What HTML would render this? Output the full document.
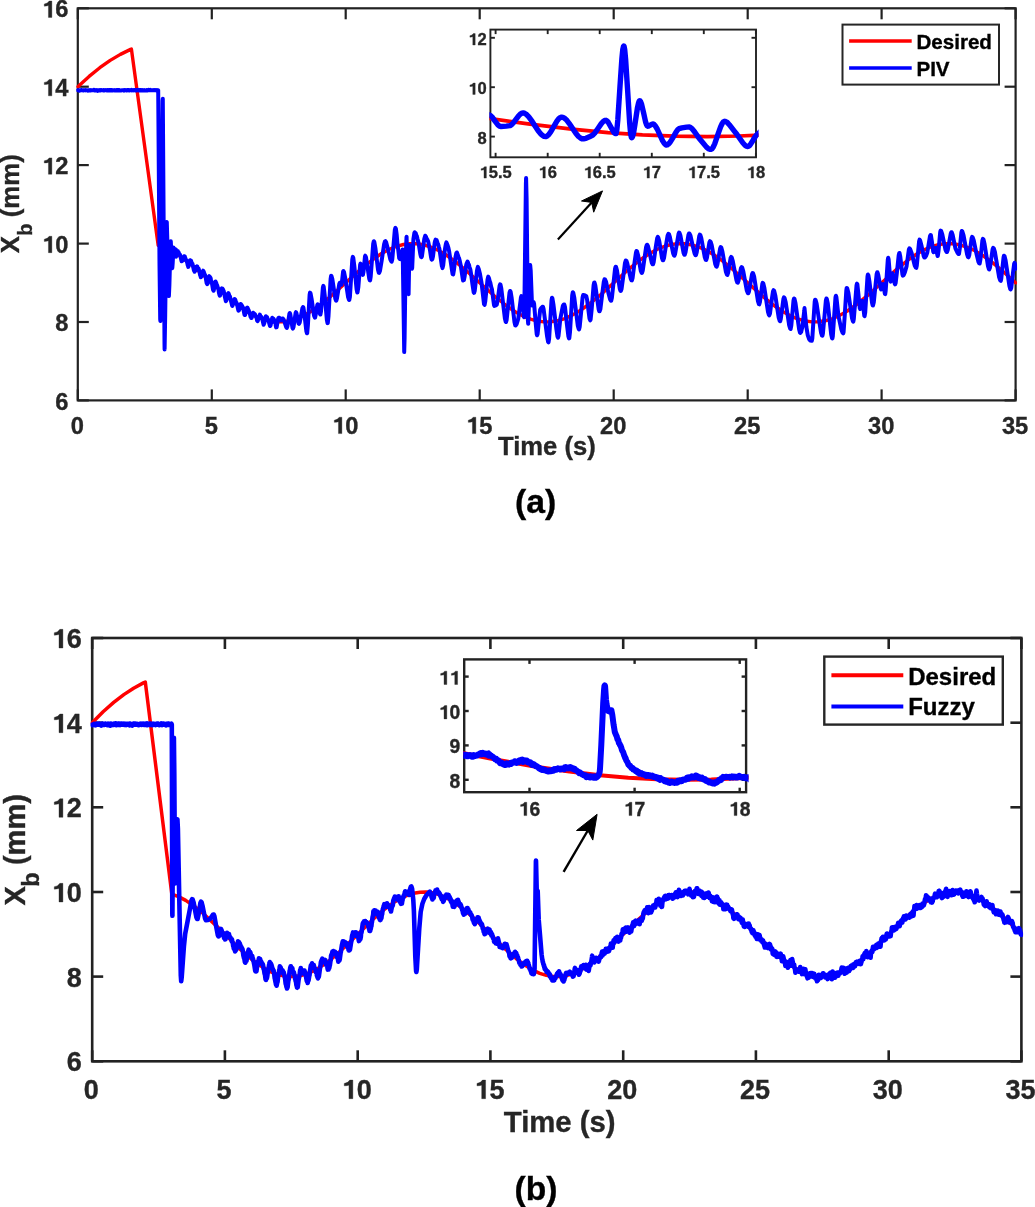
<!DOCTYPE html>
<html><head><meta charset="utf-8"><title>Xb tracking: PIV vs Fuzzy</title>
<style>
html,body{margin:0;padding:0;background:#fff;}
body{width:1035px;height:1207px;overflow:hidden;}
svg{display:block;font-family:"Liberation Sans", sans-serif;font-weight:bold;will-change:transform;}
</style></head>
<body>
<svg width="1035" height="1207" viewBox="0 0 1035 1207">
<rect width="1035" height="1207" fill="#fff"/>
<rect x="77.8" y="8.3" width="937.80" height="392.10" fill="none" stroke="#222222" stroke-width="2.2"/>
<line x1="77.8" y1="400.4" x2="77.8" y2="389.4" stroke="#222222" stroke-width="2.2"/>
<line x1="77.8" y1="8.3" x2="77.8" y2="19.3" stroke="#222222" stroke-width="2.2"/>
<line x1="211.8" y1="400.4" x2="211.8" y2="389.4" stroke="#222222" stroke-width="2.2"/>
<line x1="211.8" y1="8.3" x2="211.8" y2="19.3" stroke="#222222" stroke-width="2.2"/>
<line x1="345.7" y1="400.4" x2="345.7" y2="389.4" stroke="#222222" stroke-width="2.2"/>
<line x1="345.7" y1="8.3" x2="345.7" y2="19.3" stroke="#222222" stroke-width="2.2"/>
<line x1="479.7" y1="400.4" x2="479.7" y2="389.4" stroke="#222222" stroke-width="2.2"/>
<line x1="479.7" y1="8.3" x2="479.7" y2="19.3" stroke="#222222" stroke-width="2.2"/>
<line x1="613.7" y1="400.4" x2="613.7" y2="389.4" stroke="#222222" stroke-width="2.2"/>
<line x1="613.7" y1="8.3" x2="613.7" y2="19.3" stroke="#222222" stroke-width="2.2"/>
<line x1="747.7" y1="400.4" x2="747.7" y2="389.4" stroke="#222222" stroke-width="2.2"/>
<line x1="747.7" y1="8.3" x2="747.7" y2="19.3" stroke="#222222" stroke-width="2.2"/>
<line x1="881.6" y1="400.4" x2="881.6" y2="389.4" stroke="#222222" stroke-width="2.2"/>
<line x1="881.6" y1="8.3" x2="881.6" y2="19.3" stroke="#222222" stroke-width="2.2"/>
<line x1="1015.6" y1="400.4" x2="1015.6" y2="389.4" stroke="#222222" stroke-width="2.2"/>
<line x1="1015.6" y1="8.3" x2="1015.6" y2="19.3" stroke="#222222" stroke-width="2.2"/>
<line x1="77.8" y1="400.4" x2="88.8" y2="400.4" stroke="#222222" stroke-width="2.2"/>
<line x1="1015.6" y1="400.4" x2="1004.6" y2="400.4" stroke="#222222" stroke-width="2.2"/>
<line x1="77.8" y1="322.0" x2="88.8" y2="322.0" stroke="#222222" stroke-width="2.2"/>
<line x1="1015.6" y1="322.0" x2="1004.6" y2="322.0" stroke="#222222" stroke-width="2.2"/>
<line x1="77.8" y1="243.6" x2="88.8" y2="243.6" stroke="#222222" stroke-width="2.2"/>
<line x1="1015.6" y1="243.6" x2="1004.6" y2="243.6" stroke="#222222" stroke-width="2.2"/>
<line x1="77.8" y1="165.1" x2="88.8" y2="165.1" stroke="#222222" stroke-width="2.2"/>
<line x1="1015.6" y1="165.1" x2="1004.6" y2="165.1" stroke="#222222" stroke-width="2.2"/>
<line x1="77.8" y1="86.7" x2="88.8" y2="86.7" stroke="#222222" stroke-width="2.2"/>
<line x1="1015.6" y1="86.7" x2="1004.6" y2="86.7" stroke="#222222" stroke-width="2.2"/>
<line x1="77.8" y1="8.3" x2="88.8" y2="8.3" stroke="#222222" stroke-width="2.2"/>
<line x1="1015.6" y1="8.3" x2="1004.6" y2="8.3" stroke="#222222" stroke-width="2.2"/>
<clipPath id="cT"><rect x="76.3" y="6.8" width="940.8" height="395.1"/></clipPath>
<path d="M77.8 86.7 L89.1 76.4 L99.8 67.7 L110.2 60.4 L120.4 54.4 L130.6 49.4 L131.4 49.1 L158.2 245.5 L165.1 247.9 L172.7 251.6 L181.0 256.8 L190.6 264.1 L203.7 275.4 L227.3 296.7 L238.3 305.6 L247.1 311.7 L254.9 316.0 L262.1 319.0 L268.8 320.9 L275.5 321.9 L282.0 321.9 L288.7 320.9 L295.6 318.9 L302.9 315.9 L310.9 311.4 L320.0 305.0 L331.0 296.1 L362.1 268.1 L372.8 259.5 L381.6 253.5 L389.4 249.3 L396.7 246.3 L403.4 244.5 L410.0 243.6 L416.5 243.7 L423.2 244.7 L430.1 246.8 L437.4 249.9 L445.4 254.5 L454.5 260.9 L465.8 270.2 L496.1 297.4 L506.8 306.0 L515.6 312.0 L523.4 316.3 L530.6 319.2 L537.3 321.0 L544.0 321.9 L550.5 321.8 L557.1 320.8 L564.1 318.8 L571.4 315.6 L579.4 311.0 L588.5 304.6 L599.8 295.4 L630.0 268.1 L640.7 259.5 L649.6 253.5 L657.4 249.3 L664.6 246.3 L671.3 244.5 L678.0 243.6 L684.4 243.7 L691.1 244.7 L698.1 246.8 L705.3 249.9 L713.4 254.5 L722.5 260.9 L733.7 270.2 L764.0 297.4 L774.7 306.0 L783.6 312.0 L791.3 316.3 L798.6 319.2 L805.3 321.0 L812.0 321.9 L818.4 321.8 L825.1 320.8 L832.1 318.8 L839.3 315.6 L847.3 311.0 L856.4 304.6 L867.7 295.4 L898.0 268.1 L908.7 259.5 L917.5 253.5 L925.3 249.3 L932.5 246.3 L939.2 244.5 L945.9 243.6 L952.4 243.7 L959.1 244.7 L966.0 246.8 L973.3 249.9 L981.3 254.5 L990.4 260.9 L1001.7 270.2 L1015.6 282.8" fill="none" stroke="#ff0000" stroke-width="3.4" stroke-linejoin="round" stroke-linecap="round" clip-path="url(#cT)"/>
<path d="M77.8 90.2 L78.2 90.3 L78.8 90.2 L79.4 90.7 L79.6 90.3 L80.1 90.5 L80.9 90.2 L81.1 90.3 L81.7 90.1 L82.1 90.2 L82.6 90.2 L82.9 90.4 L83.3 90.2 L83.5 90.4 L84.0 90.2 L84.7 90.3 L85.3 90.1 L85.8 90.5 L86.2 90.2 L86.4 90.3 L86.8 90.2 L87.2 90.3 L87.4 90.2 L87.8 90.6 L88.6 90.2 L89.3 90.5 L89.7 90.2 L90.3 90.4 L90.7 90.1 L90.8 90.3 L91.1 90.4 L91.5 90.3 L92.0 90.3 L92.9 90.2 L93.2 90.2 L93.6 90.0 L94.0 90.1 L94.1 89.9 L94.5 90.4 L94.7 90.3 L94.8 90.4 L95.2 90.4 L95.6 90.5 L96.0 90.4 L96.4 90.3 L96.4 90.1 L96.8 90.2 L96.9 90.3 L97.4 90.2 L97.8 90.8 L98.3 90.3 L98.9 90.2 L99.5 90.3 L99.8 90.0 L100.2 90.5 L100.8 90.1 L101.0 90.3 L101.4 90.1 L101.8 90.2 L103.0 90.2 L103.4 90.4 L103.6 90.1 L104.0 90.3 L104.2 90.2 L104.6 90.4 L105.2 90.0 L105.5 90.3 L105.9 90.3 L106.8 90.1 L107.2 90.5 L107.5 90.3 L107.7 90.4 L107.9 90.1 L108.3 90.4 L108.9 90.1 L109.3 90.4 L109.6 90.2 L110.0 90.4 L110.2 90.2 L110.5 90.4 L110.9 90.1 L111.0 90.2 L111.4 90.0 L111.7 90.4 L112.0 90.2 L112.7 90.5 L113.7 90.2 L114.6 90.3 L114.9 90.5 L114.9 90.3 L115.5 90.4 L115.9 90.4 L116.0 90.5 L116.4 90.1 L116.5 90.2 L116.6 90.2 L116.9 90.5 L117.3 90.3 L117.4 90.5 L117.7 90.3 L117.8 90.5 L117.8 90.3 L118.1 90.4 L118.4 90.3 L118.7 90.4 L119.4 90.1 L119.7 90.4 L120.2 90.4 L121.1 90.4 L121.5 90.4 L122.2 90.2 L122.6 90.3 L123.6 90.2 L124.0 90.6 L124.5 90.1 L124.9 90.3 L125.7 90.1 L126.0 90.4 L126.4 90.5 L126.6 90.5 L127.0 90.2 L127.2 90.4 L127.6 90.0 L128.0 90.2 L128.4 90.0 L129.2 90.4 L129.3 90.5 L129.8 90.2 L130.5 90.3 L130.9 90.2 L131.3 89.9 L131.6 90.2 L132.1 90.5 L132.5 90.2 L132.9 90.3 L133.4 90.4 L133.8 89.9 L134.1 90.0 L134.3 90.2 L134.6 90.0 L135.0 90.3 L135.1 90.2 L135.5 90.4 L135.8 90.4 L136.1 90.0 L136.6 90.5 L137.2 90.4 L137.4 90.3 L137.8 89.9 L138.5 90.4 L138.9 90.0 L139.1 90.3 L139.5 90.2 L139.7 90.1 L139.9 90.4 L140.3 90.1 L141.1 90.5 L141.4 90.2 L141.7 90.5 L142.7 90.1 L143.1 90.4 L143.2 90.2 L143.7 90.4 L144.2 90.0 L144.7 90.4 L145.2 90.6 L146.0 90.3 L146.2 90.4 L146.6 90.0 L146.8 90.1 L147.3 90.2 L147.7 90.4 L148.1 90.1 L148.5 89.9 L148.7 90.2 L149.6 90.3 L150.1 90.2 L150.4 89.9 L150.8 90.2 L151.4 90.2 L151.8 90.3 L152.0 90.2 L152.4 90.2 L152.7 90.2 L152.9 90.3 L153.3 90.1 L154.0 90.3 L154.6 90.0 L155.3 90.3 L155.6 90.1 L156.1 90.4 L156.4 90.4 L156.8 90.3 L157.1 90.1 L157.8 90.3 L158.2 90.2 L159.5 264.8 L160.2 319.3 L160.4 321.1 L161.0 268.3 L162.6 100.9 L162.8 98.7 L164.5 344.1 L164.6 349.4 L165.2 315.2 L166.3 234.8 L166.7 222.2 L166.8 222.0 L167.4 242.0 L168.8 295.4 L168.9 296.1 L169.4 284.8 L170.5 244.9 L170.8 241.3 L171.9 264.5 L172.3 268.2 L172.7 263.1 L173.5 247.5 L174.0 249.7 L174.7 253.3 L175.1 252.9 L175.9 249.4 L176.0 256.7 L176.2 256.2 L176.7 254.3 L177.0 253.1 L177.3 252.7 L177.9 251.2 L178.4 252.9 L178.5 252.6 L178.6 252.8 L178.7 252.5 L178.9 253.3 L179.2 253.8 L179.7 254.7 L179.8 254.4 L179.9 254.8 L180.0 254.7 L180.9 258.2 L181.3 260.0 L181.6 261.2 L181.8 260.4 L182.3 260.9 L183.1 258.5 L183.5 257.5 L183.6 257.6 L184.1 256.3 L184.6 256.7 L184.8 256.4 L185.2 258.1 L185.3 258.0 L185.4 258.2 L185.4 258.1 L186.3 260.8 L186.5 260.5 L186.9 262.0 L187.0 261.8 L187.8 265.5 L187.9 265.4 L188.3 266.9 L188.6 266.2 L189.3 263.5 L189.5 263.7 L190.0 260.3 L190.3 260.5 L190.5 261.4 L190.7 261.4 L191.0 260.6 L191.7 262.9 L192.0 263.5 L192.1 264.2 L192.3 263.8 L192.5 263.9 L193.9 270.4 L194.0 270.6 L194.1 270.5 L194.2 270.7 L194.3 270.5 L194.6 271.8 L194.8 271.0 L194.8 271.3 L195.0 270.4 L195.2 270.9 L195.8 267.6 L196.0 267.8 L196.4 266.7 L196.4 266.8 L196.5 266.7 L196.6 266.8 L196.8 266.5 L197.2 267.0 L197.3 266.5 L197.9 268.8 L198.1 268.8 L198.2 269.1 L198.3 268.9 L198.4 269.1 L198.6 268.6 L199.4 271.5 L200.1 275.2 L200.5 276.0 L200.8 277.2 L200.9 276.8 L200.9 277.2 L201.2 276.7 L201.7 275.6 L202.3 272.8 L202.7 271.8 L203.2 270.7 L203.8 271.7 L204.6 274.4 L205.0 275.3 L205.1 275.0 L205.2 275.4 L205.3 275.3 L206.6 282.9 L207.1 284.1 L207.2 283.8 L207.3 284.1 L207.5 283.4 L207.5 283.7 L207.9 283.1 L208.7 277.3 L209.3 276.2 L209.6 276.9 L209.7 276.6 L210.2 277.8 L210.3 277.6 L210.6 278.1 L211.1 280.3 L212.0 283.6 L212.8 288.3 L213.1 290.0 L213.6 290.6 L213.6 290.4 L213.7 290.5 L214.8 284.8 L215.4 281.6 L215.6 281.6 L216.0 282.5 L216.1 282.5 L216.8 284.8 L216.9 285.2 L217.0 285.0 L217.3 285.8 L218.5 289.8 L219.0 293.1 L219.5 295.0 L219.8 295.7 L219.9 295.3 L220.0 295.6 L220.6 292.6 L221.2 289.8 L221.3 289.9 L221.7 288.6 L221.8 288.8 L221.9 288.5 L222.0 288.7 L222.2 288.5 L222.3 288.8 L222.4 288.6 L222.5 289.1 L222.6 288.9 L222.8 289.5 L222.9 289.2 L223.5 290.9 L223.6 291.3 L223.7 291.0 L224.7 296.1 L225.8 301.2 L226.1 300.5 L226.3 300.6 L227.1 297.2 L227.8 293.7 L228.0 293.8 L228.4 293.2 L228.5 293.4 L228.6 293.3 L229.5 296.3 L229.6 295.9 L229.7 296.3 L229.9 296.3 L230.9 300.8 L231.5 303.0 L232.1 305.4 L232.1 305.2 L232.4 305.9 L232.5 305.6 L232.5 305.8 L232.8 304.7 L232.9 304.9 L233.6 301.8 L234.0 300.0 L234.1 300.1 L234.5 299.2 L234.6 299.0 L234.8 299.4 L235.0 299.6 L235.1 299.3 L235.4 300.0 L236.1 302.7 L236.3 302.8 L236.5 302.6 L237.5 306.4 L237.8 308.1 L238.4 310.6 L238.6 310.7 L238.9 310.4 L239.3 309.5 L240.2 305.3 L240.5 304.1 L240.6 304.2 L240.7 304.1 L240.7 304.5 L240.9 304.0 L241.1 304.6 L241.1 304.4 L241.3 305.5 L241.5 305.2 L241.5 305.5 L241.7 305.0 L242.3 306.9 L242.4 306.5 L242.7 306.8 L243.5 309.8 L244.5 314.8 L244.8 314.6 L244.8 315.1 L245.0 314.8 L245.1 315.0 L246.1 311.2 L246.7 308.0 L246.9 307.8 L247.0 308.0 L247.1 307.8 L247.2 307.9 L247.4 307.6 L247.8 308.4 L248.5 310.1 L248.5 309.9 L248.9 311.3 L249.0 311.1 L249.9 313.8 L250.5 316.6 L250.7 317.2 L250.8 317.0 L251.0 317.4 L251.1 317.2 L251.2 317.8 L251.3 317.6 L251.5 318.0 L251.9 317.2 L252.3 315.1 L252.4 315.2 L253.2 312.7 L253.6 313.7 L253.9 313.3 L254.2 313.7 L254.6 315.0 L255.0 314.2 L255.3 315.5 L255.4 315.4 L255.8 316.4 L255.8 316.1 L256.7 318.4 L257.1 320.6 L257.5 321.1 L257.5 320.6 L257.8 320.8 L258.3 319.0 L258.3 319.2 L259.0 316.2 L259.2 316.2 L259.3 315.8 L259.5 316.0 L259.9 314.6 L260.5 316.5 L260.9 316.4 L261.3 317.2 L261.5 317.1 L262.0 318.6 L262.3 319.2 L263.6 324.7 L264.0 323.6 L264.2 323.6 L265.8 316.2 L266.1 316.5 L266.4 317.2 L266.9 318.0 L267.1 317.2 L267.6 319.4 L267.8 318.8 L268.1 319.7 L268.7 321.4 L269.9 325.8 L270.1 326.0 L270.2 325.8 L270.3 325.9 L270.5 325.7 L272.2 317.8 L272.4 318.5 L272.5 318.3 L272.6 318.5 L272.6 318.2 L273.2 319.1 L273.5 318.6 L274.1 319.9 L274.7 322.2 L274.9 322.1 L275.1 322.5 L275.1 322.2 L276.1 327.4 L276.6 327.3 L278.2 318.4 L278.3 318.5 L278.4 318.0 L278.6 318.2 L278.8 317.7 L279.2 317.8 L279.6 319.6 L279.8 319.2 L279.9 319.6 L280.1 319.3 L280.4 319.8 L280.8 320.5 L281.7 318.8 L282.9 318.5 L283.7 319.7 L286.2 327.2 L286.8 327.9 L287.4 326.5 L289.4 313.7 L289.8 313.0 L290.3 314.3 L292.5 328.0 L292.9 328.6 L293.5 327.1 L295.6 313.0 L296.0 312.2 L296.4 312.9 L298.6 323.5 L299.0 323.9 L299.7 322.6 L302.4 308.2 L303.0 307.1 L303.4 307.6 L304.3 313.4 L306.4 331.4 L307.0 333.3 L307.2 333.1 L307.9 325.1 L309.6 294.9 L310.0 292.6 L310.5 293.2 L311.6 298.8 L314.0 315.5 L314.8 317.6 L315.1 317.5 L315.9 313.8 L317.3 305.0 L317.7 304.3 L318.2 305.6 L320.0 314.1 L320.4 314.5 L321.0 311.4 L322.9 287.5 L323.3 285.9 L323.7 286.7 L324.7 295.3 L326.9 320.2 L327.5 323.1 L327.8 323.0 L328.5 316.0 L330.6 279.0 L331.1 275.8 L331.4 275.9 L332.3 278.9 L335.3 298.6 L336.0 300.7 L336.3 300.7 L337.0 298.3 L339.3 283.9 L339.8 282.8 L340.7 283.8 L341.5 284.7 L341.9 282.5 L343.1 271.5 L343.4 271.0 L344.0 272.0 L345.3 278.4 L348.1 297.1 L349.0 299.8 L349.3 300.0 L349.9 296.8 L352.3 259.4 L352.8 256.9 L353.3 257.9 L354.4 266.6 L356.6 289.3 L357.3 292.5 L357.5 292.5 L358.3 287.5 L360.1 265.1 L360.5 263.6 L361.0 264.7 L362.6 274.4 L362.9 274.9 L363.5 271.9 L365.0 256.3 L365.3 255.7 L366.0 257.3 L367.6 267.8 L369.2 278.5 L369.8 280.3 L370.1 280.4 L370.7 276.7 L373.2 243.7 L373.8 241.2 L374.3 241.9 L375.4 248.1 L378.0 269.8 L378.8 272.8 L379.2 272.9 L380.0 270.8 L381.7 260.4 L384.1 244.4 L384.9 241.5 L385.4 241.2 L386.2 242.4 L387.8 248.4 L390.3 259.3 L391.3 261.4 L391.7 261.6 L392.3 259.2 L394.8 230.1 L395.4 227.9 L395.9 228.8 L396.7 234.8 L397.6 245.3 L398.2 249.6 L399.2 258.2 L400.0 259.1 L400.8 259.2 L401.7 253.9 L402.5 249.5 L402.7 252.0 L404.2 351.0 L404.2 352.1 L404.6 337.6 L405.7 257.4 L406.5 237.1 L406.6 236.9 L407.2 267.1 L407.7 287.4 L408.4 293.9 L408.6 294.1 L409.5 245.1 L410.2 252.9 L411.0 264.1 L411.8 268.5 L412.0 268.6 L412.2 267.8 L413.4 239.1 L414.4 232.9 L414.5 232.7 L414.6 232.9 L414.7 232.3 L415.0 232.6 L415.1 232.9 L415.2 232.8 L415.2 232.9 L415.5 232.9 L415.7 233.1 L416.5 236.3 L416.8 235.9 L417.4 238.5 L418.0 240.8 L418.2 242.3 L418.3 242.0 L418.5 242.6 L420.3 253.9 L421.0 256.7 L421.1 256.6 L421.3 257.0 L421.5 257.1 L421.9 256.5 L423.2 247.0 L424.3 238.8 L425.2 235.7 L425.9 236.6 L426.0 236.6 L426.4 238.4 L426.5 238.2 L426.7 238.4 L427.1 240.0 L427.4 239.6 L427.9 241.1 L428.3 242.1 L429.5 247.9 L430.0 250.3 L431.0 257.0 L431.6 259.5 L431.8 259.6 L432.3 259.2 L433.0 256.2 L434.7 242.8 L435.3 240.1 L435.3 240.2 L435.5 239.7 L435.6 239.9 L435.7 239.7 L435.8 240.4 L436.0 240.1 L436.1 240.2 L436.3 240.5 L436.6 240.0 L437.2 241.9 L437.8 244.0 L438.0 243.9 L438.4 245.2 L438.8 246.8 L439.4 248.9 L440.3 254.9 L441.0 260.0 L441.8 265.7 L442.0 266.4 L442.1 266.3 L442.5 268.1 L443.2 265.3 L444.7 251.1 L445.3 247.0 L445.9 243.8 L446.4 242.3 L446.8 243.5 L446.8 243.3 L447.4 244.9 L447.6 245.3 L448.4 247.9 L449.2 251.7 L451.3 265.6 L452.0 270.4 L452.6 274.1 L452.9 273.9 L453.2 274.3 L454.0 269.6 L455.5 257.1 L456.3 253.1 L456.5 253.6 L456.9 252.5 L458.0 255.5 L458.5 256.9 L459.0 258.1 L459.8 261.1 L460.7 265.1 L462.8 279.1 L463.1 280.5 L463.2 279.9 L463.3 280.3 L463.5 279.8 L463.6 280.0 L463.7 279.7 L463.9 280.0 L464.7 276.0 L466.1 265.5 L466.6 263.5 L467.5 261.5 L467.7 261.8 L468.0 262.5 L468.3 264.5 L468.4 264.8 L468.5 264.1 L468.7 264.4 L468.8 264.3 L469.5 267.1 L470.4 269.7 L471.3 275.4 L472.4 283.9 L473.7 292.4 L473.9 292.7 L474.0 292.6 L474.1 292.8 L474.7 290.9 L475.6 283.2 L476.9 271.1 L477.5 268.1 L477.9 266.9 L478.8 269.3 L480.0 274.0 L481.5 282.5 L484.0 304.0 L484.5 304.9 L484.5 304.7 L484.6 304.8 L485.3 301.1 L487.5 279.6 L488.2 276.6 L488.6 277.4 L489.0 278.3 L489.8 281.8 L490.0 282.0 L490.1 281.9 L490.2 282.2 L490.2 282.1 L491.2 287.0 L491.9 289.1 L494.0 304.9 L494.4 305.9 L495.9 305.4 L496.8 304.5 L497.7 299.9 L499.6 285.7 L500.1 284.4 L500.5 284.7 L501.3 288.5 L504.9 318.6 L505.7 321.7 L506.0 322.0 L506.6 320.2 L508.1 305.9 L509.5 292.7 L510.1 291.0 L510.6 291.7 L511.6 297.5 L514.5 322.3 L515.3 325.4 L515.7 325.5 L516.6 324.1 L518.3 318.6 L520.9 297.7 L521.4 296.1 L521.8 297.3 L523.8 316.5 L524.1 317.2 L524.6 289.0 L525.9 183.5 L526.1 178.1 L526.6 198.7 L527.9 320.5 L528.2 323.8 L528.8 308.4 L530.0 267.3 L530.2 265.1 L530.7 270.7 L532.0 304.3 L532.3 305.5 L533.6 302.0 L534.1 303.7 L535.6 322.0 L536.7 334.1 L537.1 335.3 L537.6 334.0 L539.1 319.3 L540.2 309.8 L541.1 308.1 L542.4 306.8 L543.0 306.7 L543.6 309.0 L547.1 336.4 L548.1 341.9 L548.5 342.3 L549.1 338.8 L551.5 300.4 L552.0 297.7 L552.4 298.2 L553.5 304.9 L556.4 329.2 L557.5 336.7 L558.0 337.7 L558.5 336.0 L560.3 319.0 L562.9 305.6 L563.8 304.4 L564.3 304.4 L565.0 307.0 L566.9 324.4 L568.4 336.4 L569.0 338.4 L569.3 338.3 L570.0 332.1 L572.2 295.3 L572.8 292.2 L573.3 292.8 L574.3 297.7 L577.8 325.7 L578.7 329.1 L579.1 329.4 L579.7 326.8 L582.6 297.2 L583.2 295.0 L584.6 295.2 L586.3 296.3 L587.1 299.8 L589.5 318.6 L590.2 320.4 L590.6 319.6 L591.6 310.1 L593.6 285.1 L594.2 282.5 L594.5 282.5 L595.3 285.3 L598.6 309.1 L599.3 311.3 L599.6 311.3 L600.4 309.1 L602.1 295.1 L603.8 281.7 L604.5 279.3 L605.0 279.4 L606.0 281.5 L608.6 293.8 L610.2 299.6 L610.9 300.8 L611.2 300.7 L611.9 297.8 L615.0 269.1 L615.6 266.7 L616.0 266.9 L616.9 270.1 L619.8 288.9 L620.5 290.9 L620.9 290.9 L621.6 288.8 L623.4 275.5 L625.0 262.8 L625.8 260.5 L626.3 260.6 L627.2 262.9 L630.7 278.6 L631.5 280.3 L631.9 280.4 L632.6 278.0 L634.7 261.2 L636.0 252.4 L636.5 251.0 L637.0 251.4 L638.1 255.2 L640.8 270.8 L641.6 272.9 L642.0 272.9 L642.8 270.3 L646.1 247.1 L646.8 244.9 L647.2 244.8 L648.0 246.3 L649.9 254.2 L651.8 262.7 L652.6 264.2 L653.0 264.3 L653.7 262.1 L655.8 246.7 L657.2 238.1 L657.8 236.9 L658.2 237.3 L659.3 241.3 L662.0 258.1 L662.8 260.3 L663.2 260.3 L664.0 258.1 L666.1 244.6 L667.6 235.5 L668.4 233.8 L668.9 234.0 L669.8 236.6 L673.2 253.6 L674.0 255.6 L674.4 255.7 L675.1 254.0 L677.0 242.8 L678.5 234.1 L679.1 232.6 L679.5 232.8 L680.4 235.4 L683.6 253.1 L684.3 254.8 L684.7 254.8 L685.5 252.3 L688.4 235.0 L689.0 233.4 L689.5 233.5 L690.5 235.6 L692.8 246.2 L694.6 253.6 L695.5 255.2 L695.9 255.2 L696.7 252.5 L699.2 236.2 L699.8 234.6 L700.3 234.9 L701.3 238.1 L704.8 257.4 L705.7 259.8 L706.2 260.0 L706.9 257.9 L709.4 242.4 L710.0 241.2 L710.6 241.7 L711.7 245.2 L715.2 263.9 L716.2 266.4 L716.7 266.7 L717.4 264.7 L720.1 248.5 L720.7 247.1 L721.3 247.6 L722.4 251.5 L725.9 271.9 L726.9 274.7 L727.4 274.9 L728.1 272.8 L730.6 258.0 L731.2 256.9 L731.7 257.4 L732.8 261.1 L736.4 280.0 L737.3 282.5 L737.8 282.7 L738.5 280.9 L741.0 268.0 L741.6 267.1 L742.2 267.6 L743.3 271.3 L746.8 290.6 L747.8 293.1 L748.3 293.3 L749.0 291.5 L752.0 274.4 L752.6 273.0 L753.1 273.3 L754.1 276.4 L758.0 301.4 L758.9 304.1 L759.3 304.3 L759.9 302.2 L762.3 284.0 L762.7 282.8 L763.3 283.4 L764.4 288.0 L768.0 311.9 L768.9 315.0 L769.3 315.3 L770.0 313.6 L771.8 299.4 L773.0 291.4 L773.6 290.2 L774.2 290.9 L775.3 295.4 L778.7 317.7 L779.7 320.9 L780.2 321.2 L780.8 319.0 L783.4 298.9 L784.0 297.3 L784.5 297.8 L785.7 302.2 L789.2 325.5 L790.2 328.7 L790.6 329.0 L791.3 325.7 L793.5 300.4 L794.0 298.5 L794.5 298.9 L795.5 303.3 L799.1 329.3 L800.0 332.6 L800.4 332.9 L801.2 331.8 L802.4 326.5 L804.3 310.6 L804.5 308.1 L806.4 327.1 L807.8 335.4 L809.1 339.2 L810.2 340.5 L811.8 340.8 L812.3 338.5 L814.7 301.7 L815.1 299.7 L815.6 300.0 L816.6 303.5 L819.0 319.8 L821.0 332.5 L822.0 335.5 L822.4 335.7 L822.9 333.5 L824.6 314.9 L825.9 300.2 L826.4 298.5 L826.8 298.9 L827.8 303.5 L831.2 334.6 L832.0 338.1 L832.4 338.4 L832.8 336.3 L834.3 314.2 L835.5 297.2 L835.9 295.7 L836.4 297.2 L838.5 316.1 L841.3 329.3 L842.5 332.7 L843.2 333.4 L843.6 331.9 L844.7 316.0 L846.3 290.6 L846.7 287.9 L847.2 288.3 L848.3 292.4 L852.0 318.2 L852.9 321.3 L853.3 321.6 L853.8 319.1 L856.5 285.6 L857.0 283.6 L857.4 284.4 L858.6 296.3 L859.8 308.2 L860.2 309.0 L860.8 307.1 L862.1 301.1 L862.4 300.9 L863.1 305.4 L864.3 315.7 L864.6 316.1 L865.2 312.7 L867.5 276.4 L867.9 274.5 L868.4 275.3 L869.5 281.9 L872.0 302.8 L872.7 305.4 L873.0 305.4 L873.8 302.3 L876.6 274.4 L877.2 272.3 L877.5 272.3 L878.3 275.0 L880.6 288.2 L881.1 289.4 L881.5 288.9 L882.8 284.1 L883.0 284.0 L883.7 287.0 L884.9 293.9 L885.2 294.1 L885.7 290.7 L887.8 259.6 L888.2 257.7 L888.6 259.2 L890.4 280.6 L890.7 281.6 L891.4 278.7 L892.2 273.5 L892.5 273.4 L893.3 276.3 L894.7 283.7 L895.1 284.3 L895.6 283.2 L896.8 273.4 L898.7 255.2 L899.2 253.1 L899.5 253.0 L900.2 256.1 L902.4 274.3 L902.8 275.7 L903.6 275.3 L904.9 272.2 L906.6 266.1 L908.9 249.3 L909.4 248.3 L910.1 248.9 L911.5 252.6 L914.7 265.5 L915.8 267.6 L916.3 267.9 L916.8 265.5 L919.1 241.3 L919.6 239.6 L920.1 240.3 L921.4 245.2 L923.7 256.1 L924.4 257.6 L925.0 257.5 L926.2 255.6 L927.3 252.5 L930.0 236.2 L930.6 235.0 L930.9 235.2 L931.9 241.6 L933.2 251.6 L933.5 252.2 L934.1 251.3 L935.5 248.0 L935.8 247.9 L936.7 252.0 L937.6 256.0 L937.8 256.0 L938.5 251.1 L940.2 232.2 L940.6 230.6 L941.2 231.0 L942.3 234.4 L945.5 249.8 L946.5 252.0 L947.0 252.1 L947.8 249.9 L950.7 233.8 L951.3 232.3 L951.7 232.3 L952.6 234.7 L955.4 248.3 L957.7 253.2 L958.6 254.1 L959.0 254.0 L959.8 248.5 L961.4 232.3 L961.8 231.0 L962.3 231.5 L963.5 235.1 L967.1 254.3 L968.0 257.0 L968.5 257.3 L969.2 255.4 L971.6 238.2 L972.1 236.9 L972.6 237.2 L973.7 240.1 L976.6 254.3 L978.4 261.8 L979.3 263.4 L979.7 263.5 L980.4 259.7 L982.4 240.3 L982.9 238.9 L983.5 239.5 L984.6 244.2 L988.0 266.2 L988.9 269.2 L989.3 269.4 L990.0 267.6 L992.6 249.3 L993.2 247.9 L993.8 248.3 L994.9 251.9 L999.1 277.1 L1000.2 280.4 L1000.8 280.8 L1001.3 278.5 L1003.6 257.0 L1004.0 255.7 L1004.5 256.1 L1005.5 259.9 L1009.4 285.9 L1010.3 289.1 L1010.7 289.4 L1011.3 287.8 L1013.1 271.9 L1014.2 263.6 L1014.6 262.8 L1015.1 264.3 L1015.6 268.7" fill="none" stroke="#0000ff" stroke-width="4.0" stroke-linejoin="round" stroke-linecap="round" clip-path="url(#cT)"/>
<g font-size="23.7" fill="#262626" stroke="#262626" stroke-width="0.35"><text x="70.71" y="433.60">0</text>
<text x="204.68" y="433.60">5</text>
<text x="345.24" y="433.60">0</text><path transform="translate(332.06 433.60) scale(23.7)" stroke-width="0.0148" d="M0.27 0L0.414 0L0.414 -0.69L0.30 -0.69Q0.24 -0.58 0.095 -0.565L0.095 -0.475Q0.18 -0.478 0.27 -0.50Z"/>
<text x="479.21" y="433.60">5</text><path transform="translate(466.03 433.60) scale(23.7)" stroke-width="0.0148" d="M0.27 0L0.414 0L0.414 -0.69L0.30 -0.69Q0.24 -0.58 0.095 -0.565L0.095 -0.475Q0.18 -0.478 0.27 -0.50Z"/>
<text x="600.00 613.19" y="433.60">20</text>
<text x="733.98 747.16" y="433.60">25</text>
<text x="867.95 881.13" y="433.60">30</text>
<text x="1001.92 1015.10" y="433.60">35</text>
<text x="55.22" y="409.50">6</text>
<text x="55.22" y="331.08">8</text>
<text x="55.22" y="252.66">0</text><path transform="translate(42.04 252.66) scale(23.7)" stroke-width="0.0148" d="M0.27 0L0.414 0L0.414 -0.69L0.30 -0.69Q0.24 -0.58 0.095 -0.565L0.095 -0.475Q0.18 -0.478 0.27 -0.50Z"/>
<text x="55.22" y="174.24">2</text><path transform="translate(42.04 174.24) scale(23.7)" stroke-width="0.0148" d="M0.27 0L0.414 0L0.414 -0.69L0.30 -0.69Q0.24 -0.58 0.095 -0.565L0.095 -0.475Q0.18 -0.478 0.27 -0.50Z"/>
<text x="55.22" y="95.82">4</text><path transform="translate(42.04 95.82) scale(23.7)" stroke-width="0.0148" d="M0.27 0L0.414 0L0.414 -0.69L0.30 -0.69Q0.24 -0.58 0.095 -0.565L0.095 -0.475Q0.18 -0.478 0.27 -0.50Z"/>
<text x="55.22" y="17.40">6</text><path transform="translate(42.04 17.40) scale(23.7)" stroke-width="0.0148" d="M0.27 0L0.414 0L0.414 -0.69L0.30 -0.69Q0.24 -0.58 0.095 -0.565L0.095 -0.475Q0.18 -0.478 0.27 -0.50Z"/></g>
<rect x="490.4" y="29.6" width="265.6" height="127.7" fill="#fff"/>
<rect x="490.4" y="29.6" width="265.60" height="127.70" fill="none" stroke="#222222" stroke-width="1.9"/>
<line x1="495.6" y1="157.3" x2="495.6" y2="152.8" stroke="#222222" stroke-width="1.9"/>
<line x1="495.6" y1="29.6" x2="495.6" y2="34.1" stroke="#222222" stroke-width="1.9"/>
<line x1="547.7" y1="157.3" x2="547.7" y2="152.8" stroke="#222222" stroke-width="1.9"/>
<line x1="547.7" y1="29.6" x2="547.7" y2="34.1" stroke="#222222" stroke-width="1.9"/>
<line x1="599.7" y1="157.3" x2="599.7" y2="152.8" stroke="#222222" stroke-width="1.9"/>
<line x1="599.7" y1="29.6" x2="599.7" y2="34.1" stroke="#222222" stroke-width="1.9"/>
<line x1="651.8" y1="157.3" x2="651.8" y2="152.8" stroke="#222222" stroke-width="1.9"/>
<line x1="651.8" y1="29.6" x2="651.8" y2="34.1" stroke="#222222" stroke-width="1.9"/>
<line x1="703.8" y1="157.3" x2="703.8" y2="152.8" stroke="#222222" stroke-width="1.9"/>
<line x1="703.8" y1="29.6" x2="703.8" y2="34.1" stroke="#222222" stroke-width="1.9"/>
<line x1="755.9" y1="157.3" x2="755.9" y2="152.8" stroke="#222222" stroke-width="1.9"/>
<line x1="755.9" y1="29.6" x2="755.9" y2="34.1" stroke="#222222" stroke-width="1.9"/>
<line x1="490.4" y1="136.6" x2="494.9" y2="136.6" stroke="#222222" stroke-width="1.9"/>
<line x1="756.0" y1="136.6" x2="751.5" y2="136.6" stroke="#222222" stroke-width="1.9"/>
<line x1="490.4" y1="87.2" x2="494.9" y2="87.2" stroke="#222222" stroke-width="1.9"/>
<line x1="756.0" y1="87.2" x2="751.5" y2="87.2" stroke="#222222" stroke-width="1.9"/>
<line x1="490.4" y1="37.8" x2="494.9" y2="37.8" stroke="#222222" stroke-width="1.9"/>
<line x1="756.0" y1="37.8" x2="751.5" y2="37.8" stroke="#222222" stroke-width="1.9"/>
<clipPath id="cI1"><rect x="489.4" y="28.6" width="269.2" height="129.7"/></clipPath>
<path d="M474.8 116.5 L530.0 124.2 L571.6 129.1 L608.0 132.6 L642.4 134.9 L674.7 136.2 L707.0 136.6 L739.2 136.0 L772.6 134.5 L776.7 134.2" fill="none" stroke="#ff0000" stroke-width="3.7" stroke-linejoin="round" stroke-linecap="round" clip-path="url(#cI1)"/>
<path d="M474.8 109.2 L475.1 109.1 L476.3 108.1 L476.7 108.0 L477.6 108.2 L477.9 108.5 L478.8 108.6 L479.1 108.8 L479.5 108.8 L480.7 109.8 L481.0 109.8 L482.0 110.8 L482.3 110.8 L482.9 111.3 L483.2 111.2 L483.5 111.4 L483.8 111.3 L484.1 111.5 L484.5 111.4 L484.8 111.8 L485.1 111.8 L485.4 112.4 L487.6 114.3 L490.4 115.4 L492.0 116.9 L495.4 121.6 L497.9 124.8 L499.5 126.1 L500.7 126.5 L506.3 126.1 L510.1 125.6 L511.6 124.7 L513.5 122.7 L518.8 115.6 L520.7 113.8 L521.9 113.1 L523.2 112.9 L524.8 113.4 L526.6 114.6 L528.8 116.9 L532.3 121.7 L538.2 130.8 L540.7 133.9 L542.6 135.5 L544.1 136.4 L545.7 136.6 L546.9 136.2 L548.5 134.8 L550.7 131.9 L556.9 121.2 L558.8 118.7 L560.4 117.5 L561.6 117.1 L562.9 117.3 L564.4 118.1 L566.3 119.7 L569.1 123.3 L576.0 133.5 L578.5 136.5 L580.4 138.0 L581.9 138.7 L583.5 138.8 L586.0 138.3 L589.4 136.8 L592.8 135.0 L594.7 133.1 L597.8 128.7 L601.3 123.6 L603.2 121.5 L604.7 120.5 L606.0 120.3 L606.9 120.8 L608.2 122.2 L610.3 126.0 L613.2 131.3 L614.4 132.9 L615.3 133.5 L616.0 133.6 L616.3 132.9 L616.9 129.5 L617.8 119.9 L620.0 86.3 L621.9 58.4 L622.8 49.3 L623.5 46.4 L623.8 46.0 L624.1 46.4 L624.7 49.5 L625.6 59.0 L627.5 88.3 L629.7 123.5 L630.6 133.5 L631.3 137.1 L631.6 137.8 L631.9 137.8 L632.5 136.7 L633.5 133.2 L635.0 124.0 L637.5 107.5 L638.5 103.2 L639.1 101.4 L639.4 100.9 L639.7 100.8 L640.0 100.9 L640.6 101.7 L641.6 104.3 L643.5 112.3 L645.6 122.0 L646.6 124.8 L647.2 125.9 L647.5 126.2 L648.4 126.1 L650.3 125.1 L652.2 124.1 L653.1 124.0 L654.1 124.5 L655.3 125.8 L657.2 129.0 L662.5 140.6 L664.1 143.2 L665.3 144.5 L666.3 145.0 L667.2 144.9 L668.4 144.1 L670.0 142.4 L672.5 138.3 L676.2 131.8 L677.8 129.7 L679.1 128.7 L681.9 127.9 L686.6 127.1 L689.4 127.0 L690.6 127.5 L692.2 128.8 L694.7 132.0 L699.1 138.3 L703.1 143.0 L706.5 147.1 L708.4 148.7 L710.0 149.4 L710.9 149.4 L711.9 148.9 L713.1 147.2 L714.7 143.9 L718.1 133.9 L720.6 126.9 L722.2 123.5 L723.4 121.8 L724.4 121.3 L725.6 121.5 L727.2 122.4 L729.3 124.7 L734.3 131.1 L736.8 134.2 L742.8 142.8 L745.0 145.2 L746.5 146.2 L747.8 146.5 L748.7 146.2 L750.0 145.1 L751.8 142.3 L755.3 136.5 L756.8 134.7 L761.8 130.3 L765.3 127.3 L766.5 126.4 L769.3 125.7 L771.8 125.5 L773.1 125.8 L774.6 126.9 L776.5 128.9" fill="none" stroke="#0000ff" stroke-width="5.4" stroke-linejoin="round" stroke-linecap="round" clip-path="url(#cI1)"/>
<g font-size="16.5" fill="#262626" stroke="#262626" stroke-width="0.35"><text x="488.72 497.90 502.48" y="178.10">5.5</text><path transform="translate(479.54 178.10) scale(16.5)" stroke-width="0.0212" d="M0.27 0L0.414 0L0.414 -0.69L0.30 -0.69Q0.24 -0.58 0.095 -0.565L0.095 -0.475Q0.18 -0.478 0.27 -0.50Z"/>
<text x="547.66" y="178.10">6</text><path transform="translate(538.48 178.10) scale(16.5)" stroke-width="0.0212" d="M0.27 0L0.414 0L0.414 -0.69L0.30 -0.69Q0.24 -0.58 0.095 -0.565L0.095 -0.475Q0.18 -0.478 0.27 -0.50Z"/>
<text x="592.84 602.02 606.60" y="178.10">6.5</text><path transform="translate(583.66 178.10) scale(16.5)" stroke-width="0.0212" d="M0.27 0L0.414 0L0.414 -0.69L0.30 -0.69Q0.24 -0.58 0.095 -0.565L0.095 -0.475Q0.18 -0.478 0.27 -0.50Z"/>
<text x="651.78" y="178.10">7</text><path transform="translate(642.60 178.10) scale(16.5)" stroke-width="0.0212" d="M0.27 0L0.414 0L0.414 -0.69L0.30 -0.69Q0.24 -0.58 0.095 -0.565L0.095 -0.475Q0.18 -0.478 0.27 -0.50Z"/>
<text x="696.96 706.14 710.72" y="178.10">7.5</text><path transform="translate(687.78 178.10) scale(16.5)" stroke-width="0.0212" d="M0.27 0L0.414 0L0.414 -0.69L0.30 -0.69Q0.24 -0.58 0.095 -0.565L0.095 -0.475Q0.18 -0.478 0.27 -0.50Z"/>
<text x="755.90" y="178.10">8</text><path transform="translate(746.72 178.10) scale(16.5)" stroke-width="0.0212" d="M0.27 0L0.414 0L0.414 -0.69L0.30 -0.69Q0.24 -0.58 0.095 -0.565L0.095 -0.475Q0.18 -0.478 0.27 -0.50Z"/>
<text x="477.52" y="143.80">8</text>
<text x="477.52" y="94.40">0</text><path transform="translate(468.35 94.40) scale(16.5)" stroke-width="0.0212" d="M0.27 0L0.414 0L0.414 -0.69L0.30 -0.69Q0.24 -0.58 0.095 -0.565L0.095 -0.475Q0.18 -0.478 0.27 -0.50Z"/>
<text x="477.52" y="45.00">2</text><path transform="translate(468.35 45.00) scale(16.5)" stroke-width="0.0212" d="M0.27 0L0.414 0L0.414 -0.69L0.30 -0.69Q0.24 -0.58 0.095 -0.565L0.095 -0.475Q0.18 -0.478 0.27 -0.50Z"/></g>
<rect x="842.5" y="24.6" width="156.5" height="60" fill="#fff" stroke="#262626" stroke-width="2"/>
<line x1="849.1" y1="41" x2="911.7" y2="41" stroke="#ff0000" stroke-width="3.5"/>
<line x1="849.1" y1="68" x2="911.7" y2="68" stroke="#0000ff" stroke-width="3.5"/>
<g font-size="20.6" fill="#000" stroke="#000" stroke-width="0.35"><text x="916.4" y="48.8">Desired</text><text x="916.4" y="76.0">PIV</text></g>
<line x1="557.9" y1="239.6" x2="591.7" y2="202.4" stroke="#000" stroke-width="2.2"/><path d="M602.5 190.9 L581.5 201.0 L591.7 202.4 L593.7 212.2 Z" fill="#000" stroke="#000" stroke-width="1" stroke-linejoin="round"/>
<text x="498.0" y="454.8" font-size="25.6" fill="#262626" stroke="#262626" stroke-width="0.35">Time (s)</text>
<text transform="translate(19 253.2) rotate(-90)" font-size="25.8" fill="#262626" stroke="#262626" stroke-width="0.35">X<tspan font-size="20" dx="0.2" dy="12.7">b</tspan><tspan dx="-0.9" dy="-12.7"> (mm)</tspan></text>
<text x="515.1" y="513.1" font-size="33.7" fill="#000" stroke="#000" stroke-width="0.35">(a)</text>
<rect x="92.2" y="638.0" width="929.20" height="423.30" fill="none" stroke="#222222" stroke-width="2.6"/>
<line x1="92.2" y1="1061.3" x2="92.2" y2="1050.3" stroke="#222222" stroke-width="2.6"/>
<line x1="92.2" y1="638.0" x2="92.2" y2="649.0" stroke="#222222" stroke-width="2.6"/>
<line x1="224.9" y1="1061.3" x2="224.9" y2="1050.3" stroke="#222222" stroke-width="2.6"/>
<line x1="224.9" y1="638.0" x2="224.9" y2="649.0" stroke="#222222" stroke-width="2.6"/>
<line x1="357.7" y1="1061.3" x2="357.7" y2="1050.3" stroke="#222222" stroke-width="2.6"/>
<line x1="357.7" y1="638.0" x2="357.7" y2="649.0" stroke="#222222" stroke-width="2.6"/>
<line x1="490.4" y1="1061.3" x2="490.4" y2="1050.3" stroke="#222222" stroke-width="2.6"/>
<line x1="490.4" y1="638.0" x2="490.4" y2="649.0" stroke="#222222" stroke-width="2.6"/>
<line x1="623.2" y1="1061.3" x2="623.2" y2="1050.3" stroke="#222222" stroke-width="2.6"/>
<line x1="623.2" y1="638.0" x2="623.2" y2="649.0" stroke="#222222" stroke-width="2.6"/>
<line x1="755.9" y1="1061.3" x2="755.9" y2="1050.3" stroke="#222222" stroke-width="2.6"/>
<line x1="755.9" y1="638.0" x2="755.9" y2="649.0" stroke="#222222" stroke-width="2.6"/>
<line x1="888.7" y1="1061.3" x2="888.7" y2="1050.3" stroke="#222222" stroke-width="2.6"/>
<line x1="888.7" y1="638.0" x2="888.7" y2="649.0" stroke="#222222" stroke-width="2.6"/>
<line x1="1021.4" y1="1061.3" x2="1021.4" y2="1050.3" stroke="#222222" stroke-width="2.6"/>
<line x1="1021.4" y1="638.0" x2="1021.4" y2="649.0" stroke="#222222" stroke-width="2.6"/>
<line x1="92.2" y1="1061.3" x2="103.2" y2="1061.3" stroke="#222222" stroke-width="2.6"/>
<line x1="1021.4" y1="1061.3" x2="1010.4" y2="1061.3" stroke="#222222" stroke-width="2.6"/>
<line x1="92.2" y1="976.6" x2="103.2" y2="976.6" stroke="#222222" stroke-width="2.6"/>
<line x1="1021.4" y1="976.6" x2="1010.4" y2="976.6" stroke="#222222" stroke-width="2.6"/>
<line x1="92.2" y1="892.0" x2="103.2" y2="892.0" stroke="#222222" stroke-width="2.6"/>
<line x1="1021.4" y1="892.0" x2="1010.4" y2="892.0" stroke="#222222" stroke-width="2.6"/>
<line x1="92.2" y1="807.3" x2="103.2" y2="807.3" stroke="#222222" stroke-width="2.6"/>
<line x1="1021.4" y1="807.3" x2="1010.4" y2="807.3" stroke="#222222" stroke-width="2.6"/>
<line x1="92.2" y1="722.7" x2="103.2" y2="722.7" stroke="#222222" stroke-width="2.6"/>
<line x1="1021.4" y1="722.7" x2="1010.4" y2="722.7" stroke="#222222" stroke-width="2.6"/>
<line x1="92.2" y1="638.0" x2="103.2" y2="638.0" stroke="#222222" stroke-width="2.6"/>
<line x1="1021.4" y1="638.0" x2="1010.4" y2="638.0" stroke="#222222" stroke-width="2.6"/>
<clipPath id="cB"><rect x="90.5" y="636.3" width="932.6" height="426.7"/></clipPath>
<path d="M92.2 722.7 L103.1 711.7 L113.7 702.4 L123.8 694.6 L133.6 688.2 L143.4 682.9 L145.3 682.0 L171.8 894.1 L178.5 896.6 L185.7 900.4 L193.6 905.7 L202.9 913.2 L215.1 924.6 L240.3 949.4 L251.0 958.8 L259.7 965.3 L267.4 970.1 L274.3 973.3 L281.0 975.4 L287.3 976.5 L293.4 976.6 L299.8 975.8 L306.2 974.0 L313.1 971.1 L320.5 966.9 L328.7 961.1 L338.6 952.8 L352.4 939.6 L373.1 919.2 L383.7 909.9 L392.5 903.3 L400.2 898.6 L407.1 895.4 L413.7 893.2 L420.1 892.2 L426.2 892.0 L432.6 892.8 L438.9 894.6 L445.8 897.5 L453.3 901.7 L461.5 907.5 L471.3 915.8 L485.1 929.0 L505.8 949.4 L516.4 958.8 L525.2 965.3 L532.9 970.1 L539.8 973.3 L546.4 975.4 L552.8 976.5 L558.9 976.6 L565.3 975.8 L571.7 974.0 L578.6 971.1 L586.0 966.9 L594.2 961.1 L604.1 952.8 L617.9 939.6 L638.6 919.2 L649.2 909.9 L658.0 903.3 L665.6 898.6 L672.6 895.4 L679.2 893.2 L685.6 892.2 L691.7 892.0 L698.0 892.8 L704.4 894.6 L711.3 897.5 L718.7 901.7 L727.0 907.5 L736.8 915.8 L750.6 929.0 L771.3 949.4 L781.9 958.8 L790.7 965.3 L798.4 970.1 L805.3 973.3 L811.9 975.4 L818.3 976.5 L824.4 976.6 L830.8 975.8 L837.2 974.0 L844.1 971.1 L851.5 966.9 L859.7 961.1 L869.5 952.8 L883.3 939.6 L904.1 919.2 L914.7 909.9 L923.4 903.3 L931.1 898.6 L938.0 895.4 L944.7 893.2 L951.0 892.2 L957.2 892.0 L963.5 892.8 L969.9 894.6 L976.8 897.5 L984.2 901.7 L992.5 907.5 L1002.3 915.8 L1016.1 929.0 L1021.4 934.3" fill="none" stroke="#ff0000" stroke-width="3.5" stroke-linejoin="round" stroke-linecap="round" clip-path="url(#cB)"/>
<path d="M92.2 724.7 L92.4 725.2 L92.8 724.5 L93.0 724.4 L93.2 725.0 L93.5 724.5 L93.6 724.8 L93.8 724.5 L93.9 724.6 L94.3 724.0 L94.6 724.8 L94.7 725.0 L94.9 724.4 L95.1 724.5 L95.3 725.3 L95.5 724.5 L95.8 725.1 L96.4 723.8 L96.6 724.6 L96.7 724.3 L96.9 724.0 L97.1 724.5 L97.5 723.8 L97.9 724.3 L98.0 723.9 L98.2 723.8 L98.3 724.3 L98.3 724.1 L98.7 724.6 L98.9 724.0 L99.2 724.7 L99.5 723.9 L99.7 723.7 L100.0 724.9 L100.1 724.5 L100.4 725.2 L100.6 724.4 L100.9 725.1 L101.1 724.8 L101.3 725.2 L101.4 725.6 L101.8 723.9 L102.0 724.5 L102.2 724.0 L102.2 724.5 L102.4 724.2 L102.6 723.7 L102.9 724.8 L103.1 724.4 L103.2 724.8 L103.3 724.5 L103.4 724.6 L103.5 724.6 L103.6 724.7 L103.8 724.3 L103.9 724.6 L104.1 724.5 L104.2 724.0 L104.5 724.9 L104.9 723.9 L105.0 724.2 L105.2 723.9 L105.5 724.4 L105.7 723.7 L105.8 724.2 L105.9 724.0 L106.0 724.4 L106.2 724.0 L106.5 724.8 L106.6 724.7 L106.7 724.8 L107.3 723.9 L107.7 725.2 L107.7 724.6 L107.8 724.9 L108.0 724.2 L108.0 724.6 L108.2 723.8 L108.3 724.1 L108.4 723.7 L108.7 725.1 L109.1 724.1 L109.2 724.3 L109.3 724.0 L109.7 724.7 L109.8 724.4 L110.1 725.7 L110.5 723.8 L110.6 723.6 L110.8 724.6 L111.0 724.8 L111.2 724.2 L111.2 724.4 L111.3 724.1 L111.5 724.5 L111.6 724.2 L111.6 724.4 L111.9 724.0 L112.2 725.1 L112.4 724.6 L112.5 724.9 L112.7 724.9 L112.7 724.6 L112.8 724.8 L112.9 724.4 L113.0 724.7 L113.1 724.4 L113.3 723.9 L113.4 724.3 L113.5 723.9 L113.7 724.5 L114.0 724.7 L114.1 724.8 L114.4 723.9 L114.5 724.3 L114.6 724.1 L114.7 724.2 L114.8 723.8 L115.0 724.3 L115.3 723.3 L115.6 724.2 L115.9 723.6 L115.9 724.2 L116.0 723.8 L116.5 725.2 L117.0 723.6 L117.1 723.7 L117.4 724.9 L117.8 724.4 L118.0 724.4 L118.3 723.7 L118.6 724.8 L119.0 723.5 L119.0 724.0 L119.1 723.6 L119.3 724.1 L119.6 724.9 L119.8 725.0 L120.1 724.5 L120.2 725.0 L120.6 723.9 L120.7 723.8 L121.0 724.1 L121.4 724.0 L121.6 723.8 L122.0 724.6 L122.2 724.1 L122.4 724.3 L122.6 724.0 L122.8 724.5 L123.0 724.6 L123.2 724.1 L123.3 724.3 L123.6 723.9 L123.8 724.2 L124.1 723.6 L124.3 724.7 L124.4 724.9 L124.5 724.2 L124.7 724.5 L124.8 724.4 L125.0 724.7 L125.3 723.9 L125.3 724.3 L125.6 724.2 L125.7 723.8 L126.0 724.5 L126.2 724.5 L126.3 725.1 L126.4 724.7 L126.4 725.0 L126.7 724.3 L126.9 724.4 L127.1 723.8 L127.3 724.0 L127.6 724.7 L127.9 724.2 L128.1 724.7 L128.4 724.2 L128.5 724.3 L128.8 723.8 L129.1 724.5 L129.2 724.1 L129.6 725.3 L130.0 723.5 L130.2 724.2 L130.3 724.0 L130.4 724.1 L130.4 723.9 L130.7 724.8 L131.0 724.3 L131.5 725.2 L131.8 724.2 L132.3 725.6 L133.1 723.9 L133.5 724.8 L133.9 723.6 L133.9 723.9 L134.1 724.6 L134.5 724.0 L134.7 724.3 L134.7 723.7 L134.9 724.4 L135.0 724.2 L135.0 724.6 L135.4 724.1 L135.8 723.6 L136.4 724.7 L136.7 723.8 L137.0 724.3 L137.2 724.1 L137.5 724.8 L137.6 724.3 L137.8 724.5 L138.2 724.1 L138.5 725.2 L138.7 724.6 L138.9 724.9 L139.1 724.2 L139.3 724.2 L139.5 724.8 L139.7 724.4 L139.8 724.5 L139.9 724.1 L140.1 724.3 L140.1 723.7 L140.2 724.2 L140.4 723.6 L140.8 724.5 L140.9 723.9 L140.9 724.3 L141.1 724.2 L141.5 724.9 L141.9 724.1 L142.1 724.8 L142.5 723.8 L142.7 724.3 L142.9 724.0 L143.3 724.6 L143.6 723.7 L144.2 724.9 L144.5 724.7 L144.8 723.9 L145.2 725.0 L145.2 724.8 L145.5 723.9 L145.6 724.1 L145.6 723.7 L146.0 724.9 L146.4 723.7 L146.8 724.8 L146.8 724.5 L147.0 724.9 L147.1 724.7 L147.2 725.3 L147.5 723.4 L148.0 724.6 L148.3 724.1 L148.5 724.4 L148.8 724.3 L148.9 724.7 L149.0 724.3 L149.1 724.9 L149.4 723.9 L149.5 724.3 L149.8 723.7 L149.9 724.2 L150.3 723.8 L150.3 724.4 L150.4 724.2 L150.6 724.5 L150.7 724.4 L150.9 725.0 L151.2 723.9 L151.5 724.1 L151.6 723.9 L152.0 725.0 L152.3 724.3 L152.6 725.1 L152.8 724.2 L153.0 724.3 L153.2 723.7 L153.6 724.6 L153.8 724.4 L154.0 724.7 L154.2 724.0 L154.5 724.5 L154.6 724.6 L155.0 723.9 L155.3 724.6 L155.4 724.3 L155.8 725.0 L156.2 724.1 L156.3 724.4 L156.4 724.1 L156.6 724.4 L156.8 724.0 L156.9 724.2 L157.0 723.9 L157.4 724.7 L157.8 723.5 L158.4 724.2 L158.5 724.1 L158.6 724.1 L158.9 725.0 L159.3 725.2 L159.4 724.6 L159.7 724.8 L159.9 724.2 L160.1 724.4 L160.4 724.4 L160.5 724.7 L160.9 723.5 L161.1 723.9 L161.4 723.4 L161.8 724.9 L162.0 725.1 L162.0 724.7 L162.1 724.9 L162.4 724.1 L162.6 724.4 L163.0 723.7 L163.3 724.6 L163.6 723.9 L163.8 723.8 L164.1 724.3 L164.3 723.9 L164.4 724.1 L164.6 724.2 L164.7 724.1 L164.8 724.5 L165.0 724.1 L165.2 724.4 L165.4 724.3 L165.6 725.1 L165.7 724.6 L166.0 725.3 L166.4 723.8 L166.7 725.1 L166.7 724.8 L166.8 725.0 L167.3 723.6 L167.5 723.8 L167.5 723.7 L167.9 724.5 L167.9 724.2 L168.0 724.5 L168.3 723.9 L168.7 725.0 L169.1 723.6 L169.3 723.8 L169.5 724.9 L169.9 724.1 L170.1 724.5 L170.3 724.1 L170.4 724.3 L170.5 724.2 L170.6 724.5 L170.7 724.3 L171.1 724.0 L171.4 723.7 L171.7 724.7 L171.8 724.4 L172.3 913.5 L172.4 915.8 L173.4 769.7 L173.9 737.8 L174.3 773.7 L175.0 883.5 L175.6 869.0 L177.0 823.5 L177.4 819.2 L177.9 828.9 L180.8 975.7 L181.2 981.3 L181.7 977.3 L183.9 946.6 L185.2 933.8 L187.5 921.8 L189.7 910.1 L191.4 900.7 L192.2 899.2 L192.6 899.4 L193.6 902.5 L196.4 917.2 L197.2 919.0 L197.6 918.9 L198.4 915.3 L200.4 903.0 L201.0 901.7 L201.6 902.2 L202.7 906.6 L205.1 918.6 L205.9 920.3 L207.8 920.0 L210.2 918.7 L212.9 914.7 L213.7 914.5 L214.4 916.1 L216.2 926.5 L217.8 935.0 L218.4 936.4 L219.0 936.2 L220.0 933.5 L221.0 928.9 L221.3 930.4 L221.5 929.9 L221.9 931.2 L222.3 932.8 L222.4 932.6 L222.7 933.4 L222.9 932.8 L223.4 935.9 L223.5 935.7 L223.9 937.3 L223.9 937.1 L224.1 938.0 L224.3 937.9 L224.4 936.8 L224.8 938.8 L225.0 939.3 L225.0 938.9 L225.2 939.1 L225.3 938.5 L225.4 938.6 L225.4 938.4 L225.6 939.2 L226.4 934.9 L226.7 935.8 L227.0 932.9 L227.2 934.1 L227.4 934.3 L227.5 933.3 L227.7 934.2 L227.8 933.4 L227.9 934.7 L228.0 934.5 L228.1 934.9 L228.2 934.1 L228.7 936.5 L229.0 934.0 L229.4 936.7 L229.5 936.1 L229.7 936.7 L229.7 936.3 L229.9 937.2 L230.1 938.0 L230.2 937.3 L230.3 937.7 L230.5 937.6 L230.7 938.7 L230.8 938.8 L230.9 938.4 L231.0 939.0 L231.1 938.8 L231.3 939.3 L231.7 941.2 L231.9 939.2 L232.5 942.8 L232.6 942.8 L232.7 942.2 L233.2 946.1 L233.4 945.4 L233.8 948.6 L233.9 948.5 L234.0 948.9 L234.4 947.1 L234.7 948.4 L235.1 951.4 L235.2 950.0 L235.4 950.8 L235.5 950.3 L235.6 950.6 L235.8 949.0 L235.9 949.1 L236.0 948.9 L236.1 949.9 L236.2 949.2 L236.3 949.7 L236.7 945.3 L236.8 945.8 L236.9 945.2 L237.2 946.1 L237.5 943.5 L237.6 944.1 L238.0 941.4 L238.2 943.0 L238.3 943.2 L238.5 942.4 L238.7 943.5 L239.0 942.1 L239.2 943.5 L239.3 943.0 L239.4 943.9 L239.5 943.4 L239.6 943.9 L239.7 943.3 L240.2 944.9 L240.4 945.0 L240.7 947.4 L240.8 947.0 L240.9 947.1 L241.1 946.7 L241.2 947.1 L241.3 946.8 L241.5 947.8 L241.6 947.5 L241.8 948.3 L241.9 948.1 L242.0 949.2 L242.1 948.7 L242.3 949.0 L242.3 948.5 L242.4 949.2 L242.5 949.0 L243.4 955.8 L243.4 955.4 L243.5 956.1 L243.6 955.9 L243.9 958.0 L244.2 957.7 L244.6 960.1 L244.9 962.2 L245.0 961.4 L245.3 962.7 L245.4 962.4 L245.4 962.6 L245.9 960.8 L246.1 960.2 L246.2 960.5 L246.3 960.0 L246.5 961.1 L247.0 956.8 L247.1 956.8 L247.7 952.1 L247.8 952.6 L248.0 952.0 L248.1 952.3 L248.6 949.7 L248.9 950.9 L249.1 951.6 L249.2 951.4 L249.6 952.0 L249.8 952.3 L250.0 951.8 L250.2 952.4 L250.5 953.0 L250.9 956.1 L251.2 954.9 L251.5 957.6 L251.6 957.5 L251.7 957.7 L251.8 956.7 L251.9 957.0 L252.0 956.3 L252.2 955.8 L252.6 959.1 L252.8 958.2 L252.8 958.8 L252.9 958.4 L253.2 960.8 L253.3 960.1 L254.4 965.4 L255.2 970.6 L255.4 971.1 L255.7 969.1 L256.1 971.4 L256.2 970.7 L256.5 971.1 L256.8 968.2 L257.5 965.0 L257.9 961.5 L257.9 962.7 L258.3 960.6 L258.5 961.5 L258.9 958.3 L259.1 959.7 L259.3 959.4 L259.4 959.6 L259.5 959.4 L259.6 959.8 L259.7 959.4 L259.9 960.0 L260.1 958.9 L260.7 961.9 L260.7 961.5 L260.9 962.0 L261.1 961.2 L261.4 963.2 L261.6 963.0 L261.9 964.3 L262.2 963.3 L262.6 965.0 L262.9 964.4 L263.4 967.4 L263.6 968.8 L263.8 969.3 L263.8 968.5 L264.6 973.9 L264.8 973.4 L265.6 979.5 L265.7 978.4 L265.8 979.3 L265.9 979.0 L266.0 980.0 L266.1 979.2 L266.3 979.3 L266.5 978.4 L266.5 978.6 L266.7 978.1 L266.8 978.4 L267.2 976.7 L268.2 969.3 L268.4 968.3 L268.5 968.4 L269.3 963.5 L269.3 963.8 L269.5 963.2 L269.8 962.0 L270.1 963.9 L270.2 963.3 L270.3 963.7 L270.4 963.1 L270.5 963.3 L270.6 963.1 L270.7 963.6 L270.8 963.4 L271.2 966.5 L271.3 966.9 L271.5 964.7 L271.6 965.7 L271.8 966.7 L271.9 966.2 L272.2 968.2 L272.3 968.0 L272.4 968.3 L272.4 968.2 L272.6 968.8 L272.7 968.6 L272.8 969.2 L272.8 969.1 L273.0 970.3 L273.1 969.7 L273.2 970.6 L273.3 970.0 L273.4 970.9 L273.6 970.2 L273.9 972.6 L274.0 972.3 L274.7 978.1 L274.7 977.5 L274.8 978.8 L274.9 978.3 L275.1 980.0 L275.7 983.1 L275.9 982.9 L275.9 984.4 L276.0 983.8 L276.1 984.2 L276.3 982.6 L276.6 985.7 L277.4 981.9 L277.5 982.1 L277.6 981.5 L278.1 976.9 L279.0 972.0 L279.2 969.9 L279.4 970.6 L279.8 966.4 L280.2 968.1 L280.3 967.6 L280.4 967.8 L280.6 967.3 L281.0 968.9 L281.0 969.7 L281.1 969.3 L281.2 969.7 L281.4 969.1 L281.6 970.2 L281.8 969.7 L282.0 971.4 L282.1 971.1 L282.2 971.8 L282.3 970.9 L282.4 972.3 L282.6 971.0 L282.6 971.4 L282.7 970.6 L283.0 973.2 L283.2 972.3 L283.5 973.9 L283.7 972.2 L284.1 974.5 L284.2 974.1 L284.7 977.1 L284.9 978.0 L285.0 977.8 L285.7 983.9 L285.9 984.0 L286.5 987.1 L286.7 986.9 L287.0 988.5 L287.3 986.9 L287.6 987.3 L288.5 979.5 L288.7 979.6 L289.7 970.4 L289.8 971.1 L290.3 967.2 L290.4 967.8 L290.5 967.0 L290.6 967.5 L290.7 966.2 L290.8 966.8 L290.9 966.3 L291.6 969.0 L291.9 968.2 L292.2 970.6 L292.4 968.4 L292.7 972.4 L292.9 971.3 L293.0 971.5 L293.1 971.3 L293.2 972.0 L293.3 971.9 L293.6 973.4 L293.9 972.3 L294.3 975.2 L294.5 974.5 L295.2 979.5 L295.3 979.1 L295.4 979.7 L295.5 979.4 L295.6 981.1 L295.7 980.4 L296.0 982.0 L296.5 985.7 L296.7 985.0 L297.0 987.5 L297.2 987.7 L297.5 986.6 L297.7 987.1 L298.6 979.9 L299.2 976.9 L299.7 974.2 L300.0 971.2 L300.2 969.8 L300.5 970.7 L300.8 968.1 L301.3 971.1 L301.6 969.5 L301.8 971.2 L302.0 970.7 L302.1 971.2 L302.3 970.8 L302.4 971.2 L302.5 970.6 L302.5 971.0 L302.7 970.5 L303.2 973.3 L303.5 971.1 L303.6 971.7 L303.7 971.2 L303.9 972.0 L304.2 973.5 L304.5 970.5 L304.7 972.0 L304.8 971.7 L305.0 972.2 L305.6 975.3 L305.7 975.0 L306.5 979.4 L306.7 980.6 L306.8 981.1 L306.9 980.0 L307.1 981.0 L307.2 980.7 L307.2 981.5 L307.3 980.8 L307.7 983.0 L308.0 980.9 L308.1 981.1 L308.4 980.1 L308.5 980.7 L309.4 975.1 L309.5 975.5 L310.0 970.8 L310.0 971.2 L310.8 965.8 L310.9 965.4 L311.2 968.1 L311.6 964.6 L311.8 965.0 L311.9 964.3 L312.1 963.3 L312.6 966.9 L312.7 965.8 L312.8 966.3 L312.9 965.6 L313.1 966.9 L313.1 966.3 L313.2 966.6 L313.3 966.5 L313.5 967.1 L313.8 965.1 L314.3 968.0 L314.3 967.5 L314.4 968.1 L314.5 967.7 L314.7 968.4 L314.8 968.0 L315.1 968.9 L315.2 968.5 L315.8 972.0 L316.0 970.4 L316.2 972.4 L316.2 972.1 L316.3 972.2 L316.4 971.7 L316.9 975.8 L317.1 974.9 L317.5 977.5 L317.7 976.8 L317.8 977.6 L318.0 978.4 L318.1 976.9 L318.2 977.3 L318.5 975.4 L318.8 977.0 L319.8 969.6 L320.1 967.8 L320.3 966.4 L320.5 966.0 L320.9 961.9 L321.0 962.4 L321.2 961.3 L321.3 961.9 L321.6 960.1 L321.8 960.2 L322.3 958.6 L322.6 959.9 L322.7 959.5 L322.9 961.0 L323.0 961.8 L323.1 960.7 L323.2 961.1 L323.4 960.3 L323.5 960.1 L323.6 960.4 L323.7 960.2 L324.0 962.3 L324.2 960.7 L324.5 961.8 L324.6 961.6 L324.8 962.3 L325.3 959.9 L325.7 962.9 L326.0 962.1 L326.1 964.8 L326.4 963.8 L326.7 965.3 L326.8 964.9 L327.1 966.0 L327.2 965.9 L327.6 968.7 L327.6 968.3 L327.8 969.6 L328.1 968.7 L328.3 969.5 L328.4 969.4 L328.6 969.4 L328.7 968.5 L329.0 967.8 L329.1 967.9 L329.2 967.6 L329.3 967.9 L329.7 965.4 L329.8 965.7 L330.3 962.1 L330.5 960.3 L330.6 960.0 L330.7 960.5 L331.1 955.4 L331.5 956.1 L331.9 953.5 L332.0 953.9 L332.4 951.6 L332.6 952.6 L332.7 952.2 L332.7 952.5 L332.9 951.2 L333.0 951.9 L333.3 951.0 L333.6 953.4 L333.7 953.1 L333.9 952.2 L334.2 952.3 L334.5 953.2 L334.6 952.5 L334.9 953.0 L335.0 951.9 L335.1 952.3 L335.2 951.8 L335.4 953.6 L335.7 952.9 L335.8 954.3 L335.9 953.7 L336.1 953.9 L336.2 952.7 L336.4 953.4 L336.6 956.0 L336.7 955.7 L337.0 957.4 L337.1 956.8 L337.3 957.4 L337.3 957.0 L337.5 957.3 L337.6 957.0 L338.2 961.0 L338.3 961.7 L338.9 959.9 L339.0 959.8 L339.1 960.5 L339.2 960.1 L339.3 960.6 L339.4 959.9 L339.5 960.3 L339.8 958.9 L340.7 952.2 L340.8 952.4 L341.4 948.4 L341.9 945.1 L342.0 944.9 L342.2 944.1 L342.6 942.0 L342.7 942.4 L342.8 941.2 L343.1 943.4 L343.2 943.2 L343.2 943.5 L343.4 942.4 L343.7 944.2 L344.1 941.5 L344.4 943.9 L344.6 943.6 L344.9 944.4 L345.3 942.3 L345.6 943.7 L345.9 944.6 L346.0 944.3 L346.0 945.0 L346.6 943.1 L347.5 947.2 L347.8 945.8 L348.4 949.7 L348.7 948.4 L349.1 950.5 L349.7 948.4 L349.9 949.9 L350.6 945.6 L351.0 942.4 L351.0 943.2 L351.4 940.6 L351.5 941.0 L352.0 936.3 L352.4 934.6 L352.6 935.0 L353.0 932.4 L353.2 933.0 L353.3 932.8 L353.6 934.4 L353.7 934.6 L353.8 934.1 L354.1 934.8 L354.4 932.6 L354.6 934.0 L354.8 934.7 L355.2 933.3 L355.5 935.7 L355.9 932.4 L356.1 934.1 L356.5 933.0 L356.5 933.9 L356.6 933.6 L356.9 935.7 L357.3 933.7 L357.4 933.8 L357.5 933.6 L357.9 936.9 L358.1 936.2 L358.5 939.0 L358.5 938.8 L358.9 941.1 L359.1 939.7 L359.3 940.4 L359.3 940.0 L359.4 940.2 L359.6 939.6 L359.7 940.2 L360.0 938.6 L360.1 939.1 L360.3 938.7 L360.4 939.1 L360.8 936.9 L360.8 937.2 L361.2 932.2 L361.5 932.8 L362.4 926.2 L362.8 923.3 L362.9 923.6 L363.2 922.5 L363.3 922.7 L363.4 922.4 L363.5 922.6 L363.8 921.8 L363.9 921.7 L364.0 922.3 L364.1 921.3 L364.4 923.0 L364.5 921.8 L364.6 922.1 L364.8 922.9 L365.2 921.1 L365.5 922.7 L365.8 921.7 L366.0 922.4 L366.2 921.9 L366.5 923.0 L366.6 922.1 L366.7 922.5 L366.8 922.3 L367.1 923.6 L367.1 923.4 L367.3 923.5 L367.4 923.1 L367.6 923.3 L367.9 923.8 L368.3 926.7 L368.4 926.2 L368.9 928.6 L369.1 928.0 L369.5 930.9 L369.8 929.0 L370.2 930.9 L370.6 928.6 L370.6 929.2 L370.8 928.7 L371.1 925.9 L371.4 926.4 L371.8 922.1 L371.9 922.5 L372.6 916.8 L372.7 917.0 L373.0 915.1 L373.1 916.0 L373.4 911.2 L373.6 912.7 L373.7 912.0 L373.7 912.9 L373.8 912.2 L374.0 912.8 L374.3 910.4 L374.4 911.5 L374.5 911.1 L374.6 912.2 L374.7 911.8 L374.9 912.8 L374.9 912.2 L375.0 913.0 L375.2 911.9 L375.3 912.5 L375.4 911.2 L375.5 911.5 L375.6 910.6 L375.9 912.6 L376.1 913.2 L376.1 912.5 L376.2 913.2 L376.4 912.3 L376.5 912.6 L376.5 912.2 L376.9 913.9 L376.9 913.7 L377.0 914.0 L377.1 913.7 L377.3 914.3 L377.3 914.0 L377.4 914.3 L377.7 911.7 L378.4 915.9 L378.5 915.7 L379.0 917.7 L379.3 918.5 L379.5 918.5 L379.6 918.1 L379.8 919.8 L380.0 918.9 L380.0 919.4 L380.1 919.1 L380.2 920.1 L380.3 918.9 L380.4 919.4 L380.5 918.8 L380.6 919.8 L380.7 918.6 L380.8 919.2 L380.9 918.4 L381.0 918.6 L381.2 917.5 L381.4 918.3 L381.9 913.8 L382.0 914.6 L382.2 913.9 L382.5 910.7 L382.6 911.1 L382.8 909.1 L383.0 909.6 L383.3 907.6 L383.4 908.0 L383.7 905.7 L383.8 906.7 L384.3 904.2 L384.7 906.0 L384.8 904.5 L384.9 904.9 L385.0 904.4 L385.1 905.4 L385.2 905.1 L385.3 905.8 L385.6 904.7 L385.9 906.8 L386.1 905.6 L386.2 905.9 L386.3 905.7 L386.4 906.6 L386.7 903.6 L386.9 904.1 L387.0 903.4 L387.4 906.2 L387.5 905.7 L387.6 906.1 L387.8 904.7 L387.8 905.2 L387.9 904.5 L388.1 906.0 L388.2 905.6 L388.5 906.3 L388.6 907.0 L388.6 906.8 L388.8 907.0 L388.9 906.7 L389.0 907.1 L389.0 906.6 L389.2 907.4 L389.4 906.7 L389.5 906.2 L389.8 908.2 L389.9 908.0 L390.2 909.8 L390.3 909.4 L390.6 910.6 L390.6 910.2 L390.7 910.7 L390.8 910.3 L391.0 911.5 L391.3 909.7 L391.3 909.5 L391.4 909.6 L391.7 907.5 L391.8 907.7 L392.0 906.7 L392.1 906.9 L392.4 905.4 L392.7 904.8 L392.8 905.5 L393.3 900.2 L393.4 900.4 L393.5 900.1 L393.6 900.7 L394.0 898.4 L394.1 898.6 L394.1 898.2 L394.2 898.9 L394.4 897.8 L394.5 899.0 L394.6 898.0 L394.8 896.5 L394.9 897.7 L395.0 897.3 L395.1 897.9 L395.3 897.1 L395.3 897.4 L395.5 896.8 L395.6 897.4 L395.7 897.1 L395.7 897.3 L396.0 897.0 L396.2 897.8 L396.4 896.9 L396.4 897.7 L396.6 897.1 L396.8 898.7 L397.1 897.5 L397.2 898.2 L397.5 897.6 L397.8 898.8 L397.9 897.7 L398.3 900.3 L398.7 896.4 L399.1 899.7 L399.2 899.0 L399.3 899.8 L399.4 899.3 L399.7 900.6 L399.8 900.4 L399.9 900.9 L400.0 900.7 L400.3 902.6 L400.4 901.7 L401.0 903.9 L401.3 902.1 L401.5 902.7 L401.5 902.0 L401.9 903.6 L402.3 900.6 L402.3 901.0 L402.5 900.4 L402.9 897.5 L403.0 897.9 L403.3 896.4 L403.5 897.3 L403.9 895.1 L403.9 895.5 L404.0 895.3 L404.2 895.8 L404.4 894.2 L404.6 894.1 L404.9 891.8 L405.0 892.5 L405.2 891.2 L405.6 892.9 L405.8 892.9 L405.9 892.6 L406.2 893.7 L406.6 892.2 L406.6 892.5 L406.8 892.2 L406.9 892.5 L407.0 892.3 L407.0 892.4 L407.1 892.0 L407.3 892.6 L407.4 892.4 L407.4 892.6 L407.7 891.8 L407.8 892.8 L407.9 892.6 L408.1 892.8 L408.2 892.3 L408.2 892.7 L408.6 891.4 L408.8 894.4 L408.9 893.6 L409.2 895.0 L409.5 894.1 L410.2 888.5 L410.9 886.7 L411.4 886.5 L412.1 888.7 L413.3 900.1 L413.9 910.9 L415.3 956.5 L416.1 971.0 L416.4 972.0 L416.8 969.4 L419.3 928.2 L420.7 911.9 L422.4 903.8 L424.2 899.0 L426.4 895.3 L429.5 891.9 L429.8 892.0 L429.9 891.7 L430.6 894.6 L430.7 893.8 L430.8 894.8 L430.9 894.2 L431.0 895.1 L431.1 895.0 L431.5 896.6 L431.7 897.6 L431.7 897.1 L431.9 897.2 L432.0 896.6 L432.4 899.5 L432.6 897.2 L432.9 898.8 L433.1 897.9 L433.5 895.9 L433.8 897.7 L434.0 895.4 L434.2 895.1 L434.5 893.4 L434.6 893.9 L434.8 892.6 L434.8 893.2 L434.9 892.0 L435.0 892.3 L435.2 891.2 L435.4 891.5 L435.5 890.8 L435.6 891.0 L435.6 890.3 L435.7 890.5 L435.9 890.4 L436.0 890.8 L436.0 890.5 L436.2 891.0 L436.4 890.2 L436.7 892.1 L437.1 889.5 L437.5 891.7 L437.7 891.2 L438.1 892.7 L438.2 892.5 L438.3 892.9 L438.4 892.2 L438.7 893.3 L438.9 892.3 L439.1 892.7 L439.4 894.2 L439.5 894.6 L439.6 893.2 L440.0 894.4 L440.3 895.6 L440.6 896.5 L440.8 895.3 L441.1 897.8 L441.2 897.0 L441.7 899.2 L441.8 898.6 L441.8 899.2 L442.0 898.3 L442.1 898.9 L442.2 898.5 L442.3 899.7 L442.4 899.2 L442.5 899.6 L442.6 899.2 L442.7 900.4 L442.8 899.9 L442.9 900.7 L443.0 900.3 L443.1 901.9 L443.5 900.0 L443.7 901.0 L444.1 898.9 L444.2 900.0 L444.9 897.4 L445.0 898.3 L445.4 895.5 L445.6 896.0 L445.9 895.4 L446.0 896.4 L446.1 895.6 L446.3 894.7 L446.5 895.4 L446.7 895.1 L446.9 896.6 L447.3 895.2 L447.3 895.6 L447.4 894.8 L447.6 895.9 L447.7 895.6 L447.8 896.3 L448.0 895.5 L448.1 896.4 L448.1 896.2 L448.3 897.0 L448.6 895.0 L449.0 897.3 L449.1 896.9 L449.4 898.6 L449.7 896.9 L450.1 899.3 L450.4 898.5 L450.8 901.5 L451.1 899.8 L451.4 902.4 L451.6 901.4 L451.8 901.7 L451.9 901.1 L452.4 904.2 L452.8 906.6 L452.9 905.8 L453.0 906.2 L453.1 905.9 L453.2 906.2 L453.4 905.4 L453.6 906.4 L453.8 906.6 L454.0 905.6 L454.4 906.8 L454.7 905.5 L454.8 905.7 L455.1 904.4 L455.5 902.7 L455.7 903.2 L456.2 901.1 L456.3 901.6 L456.4 901.3 L456.5 901.7 L456.6 900.9 L456.7 901.2 L456.8 900.5 L457.1 901.1 L457.4 900.2 L457.5 900.8 L457.5 900.1 L457.7 901.2 L457.8 900.6 L457.9 901.2 L458.0 899.8 L458.4 902.2 L458.6 901.4 L458.8 902.5 L459.0 904.5 L459.2 904.4 L459.3 904.9 L459.4 904.1 L459.5 904.6 L459.7 904.1 L459.8 905.2 L460.1 905.7 L460.4 903.9 L460.6 905.6 L460.8 904.8 L460.9 905.5 L461.0 905.3 L461.5 907.9 L461.6 908.2 L461.8 907.7 L462.2 909.9 L462.5 910.7 L462.6 910.1 L463.0 913.3 L463.2 911.4 L463.4 912.3 L463.5 914.1 L463.6 913.7 L463.7 914.7 L463.8 914.4 L463.9 914.5 L464.1 912.5 L464.4 913.5 L464.5 912.7 L464.5 913.1 L464.7 912.2 L464.8 912.8 L464.9 912.0 L465.1 913.7 L465.4 910.4 L465.7 912.0 L466.0 910.6 L466.1 910.9 L466.3 910.2 L466.4 910.8 L466.5 909.2 L466.6 909.5 L466.7 908.3 L466.9 910.0 L466.9 909.0 L467.0 909.3 L467.2 908.0 L467.4 908.5 L467.5 908.0 L467.9 910.3 L468.0 910.0 L468.0 910.3 L468.1 909.7 L468.2 910.2 L468.4 909.3 L468.8 912.5 L469.1 911.2 L469.4 912.5 L469.5 912.6 L469.6 912.3 L469.7 912.9 L469.8 912.6 L469.9 913.0 L470.0 912.6 L470.2 912.2 L470.7 914.5 L470.8 914.0 L471.1 915.3 L471.3 914.7 L471.6 915.6 L471.7 915.2 L472.0 916.6 L472.1 916.4 L472.6 919.7 L472.8 918.7 L472.9 918.4 L473.2 920.4 L473.3 920.1 L473.9 922.8 L474.0 922.4 L474.1 922.5 L474.2 922.2 L474.3 923.3 L474.4 922.9 L474.6 923.4 L474.7 923.3 L474.8 924.2 L475.1 923.1 L475.5 921.2 L475.6 921.9 L475.9 920.7 L476.0 920.6 L476.1 921.7 L476.5 920.3 L476.6 920.6 L477.0 918.3 L477.3 919.1 L477.5 917.4 L478.0 919.3 L478.3 918.3 L478.4 918.5 L478.6 917.4 L478.6 918.4 L478.7 918.0 L478.9 919.2 L479.0 918.8 L479.3 921.7 L479.4 921.0 L479.6 920.6 L479.7 921.2 L479.8 920.8 L480.4 923.1 L480.6 922.3 L480.9 923.9 L481.1 923.3 L481.3 925.1 L481.7 924.0 L481.7 923.9 L481.9 925.4 L482.1 924.6 L482.1 925.5 L482.2 925.0 L482.5 927.3 L482.9 928.8 L482.9 928.5 L483.0 928.8 L483.1 928.3 L483.3 928.8 L483.7 932.0 L483.9 931.7 L484.1 932.7 L484.2 932.5 L484.5 933.9 L484.6 934.1 L484.8 933.7 L484.9 933.8 L485.1 932.8 L485.2 933.0 L485.3 932.5 L485.6 932.9 L485.6 933.8 L486.0 932.0 L486.4 929.9 L486.5 930.3 L486.6 930.1 L486.8 931.2 L487.2 929.2 L487.2 929.4 L487.4 928.9 L487.6 929.5 L487.8 928.7 L488.1 929.9 L488.2 929.4 L488.4 929.5 L488.4 929.3 L488.6 929.8 L488.8 929.3 L489.2 930.7 L489.5 929.4 L490.0 933.3 L490.3 932.0 L490.4 933.1 L490.7 933.9 L491.0 932.0 L491.1 934.0 L491.2 933.7 L491.5 935.5 L492.0 934.0 L492.5 936.3 L492.6 935.7 L493.0 938.0 L493.1 937.4 L493.7 939.6 L493.8 939.2 L494.1 941.8 L494.3 940.8 L494.5 941.9 L494.7 940.6 L495.0 941.8 L495.0 941.5 L495.1 942.4 L495.5 940.7 L495.7 941.0 L495.8 940.6 L495.9 943.4 L496.1 942.1 L496.2 943.1 L496.2 942.1 L496.3 942.4 L496.5 942.1 L496.6 943.6 L496.8 940.7 L497.0 941.4 L497.1 940.1 L497.4 941.5 L497.5 939.3 L497.6 940.2 L497.7 939.6 L497.8 940.2 L498.0 938.4 L498.4 940.5 L498.5 940.2 L498.8 943.7 L498.9 942.0 L499.2 944.8 L499.3 944.1 L499.6 946.9 L499.8 945.7 L500.1 946.9 L500.2 945.4 L500.5 946.8 L500.5 946.4 L500.7 946.6 L500.8 946.1 L500.9 946.4 L500.9 946.3 L501.1 947.4 L501.3 946.3 L501.5 947.5 L501.7 947.0 L501.8 946.5 L501.9 946.9 L502.1 946.4 L502.1 947.0 L502.2 946.7 L502.4 948.0 L502.5 947.5 L502.7 948.2 L502.9 946.3 L503.0 947.3 L503.3 946.7 L503.3 947.1 L503.5 946.5 L503.6 946.9 L504.0 945.4 L504.3 945.1 L504.4 944.3 L504.5 945.2 L504.8 943.8 L504.9 945.3 L505.1 943.9 L505.2 944.2 L505.2 943.7 L505.4 944.7 L505.5 944.3 L505.6 945.0 L505.8 944.9 L506.0 944.5 L506.2 945.7 L506.6 944.3 L506.8 947.0 L506.9 945.4 L507.2 947.2 L507.3 946.9 L507.6 948.2 L508.0 949.8 L508.4 951.6 L508.6 951.1 L508.9 953.0 L509.1 952.5 L509.5 956.2 L509.7 955.2 L509.8 956.1 L509.9 955.5 L510.3 957.6 L510.6 956.8 L510.7 958.4 L510.8 957.5 L511.0 958.3 L511.2 956.3 L511.5 957.6 L511.7 957.1 L511.9 957.8 L512.0 956.6 L512.1 956.8 L512.3 955.9 L512.4 956.9 L512.5 956.0 L512.6 956.4 L512.7 955.3 L512.8 955.9 L513.2 954.0 L513.4 955.2 L513.5 954.2 L513.8 955.7 L514.2 953.7 L514.2 954.9 L514.5 952.6 L514.7 953.5 L515.1 951.8 L515.4 954.6 L515.7 952.6 L515.8 953.5 L515.8 953.3 L516.0 953.9 L516.2 952.9 L516.6 955.2 L516.7 955.4 L517.0 955.1 L517.2 955.2 L517.3 957.2 L517.5 956.3 L517.7 958.4 L517.8 957.2 L517.9 957.5 L518.0 957.3 L518.2 958.5 L518.5 959.8 L518.6 959.5 L518.8 960.1 L519.3 962.7 L519.5 962.1 L519.8 963.8 L520.0 963.2 L520.1 964.5 L520.3 963.8 L520.4 964.3 L520.5 963.7 L520.8 965.0 L520.9 964.7 L521.0 965.3 L521.1 965.0 L521.3 965.7 L521.4 965.5 L521.6 966.4 L521.7 965.7 L521.8 966.4 L522.1 965.0 L522.4 966.1 L522.9 964.4 L523.1 965.1 L523.2 963.5 L523.5 964.6 L523.7 963.9 L523.8 964.3 L524.2 962.6 L524.7 963.9 L524.9 962.9 L525.0 963.4 L525.2 962.9 L525.3 963.2 L525.5 962.4 L525.8 963.7 L526.0 961.2 L526.1 962.3 L526.3 961.2 L526.4 962.3 L526.6 961.6 L526.7 962.6 L526.9 961.8 L527.1 961.9 L527.2 960.9 L527.5 962.5 L527.6 961.5 L527.9 963.3 L528.1 962.5 L528.3 964.0 L528.4 963.2 L528.6 964.2 L529.4 967.3 L529.5 967.4 L529.6 968.7 L529.8 967.9 L530.5 970.5 L530.7 971.0 L531.0 971.8 L531.2 971.2 L531.4 973.2 L531.7 972.2 L532.2 973.9 L532.5 972.3 L532.8 973.7 L533.0 972.8 L533.3 974.1 L533.4 972.4 L533.7 974.0 L533.8 974.1 L534.0 972.9 L534.1 973.2 L534.6 968.3 L535.9 861.5 L536.0 860.5 L536.7 889.3 L536.9 891.6 L537.2 892.6 L537.5 891.1 L537.7 891.0 L538.7 919.7 L539.9 934.0 L541.6 954.5 L542.3 959.7 L542.4 959.2 L542.7 962.0 L542.8 961.4 L542.9 962.6 L543.0 961.9 L543.2 964.0 L543.2 963.5 L543.4 964.1 L543.7 965.1 L543.9 966.1 L544.0 965.1 L544.3 967.5 L544.5 966.7 L544.7 969.0 L544.9 967.8 L545.1 968.4 L545.5 969.9 L545.6 969.4 L545.8 970.2 L545.9 969.6 L546.4 971.1 L546.5 971.9 L546.7 970.6 L546.7 971.3 L546.8 971.0 L547.0 971.8 L547.1 971.0 L547.2 971.7 L547.4 971.1 L547.5 971.8 L547.6 971.4 L547.9 972.6 L548.0 971.7 L548.2 972.7 L548.5 973.2 L548.6 972.8 L548.9 973.7 L549.0 973.5 L549.1 974.5 L549.3 973.8 L549.5 975.6 L549.7 974.1 L549.9 976.6 L550.1 974.7 L550.4 976.4 L550.6 976.2 L550.8 976.6 L551.1 978.3 L551.3 977.5 L551.4 978.7 L551.6 977.7 L552.1 980.0 L552.2 979.8 L552.4 980.5 L552.8 978.9 L553.0 979.9 L553.1 979.5 L553.2 979.9 L553.3 979.3 L553.7 980.5 L553.8 980.0 L553.9 980.1 L554.1 979.5 L554.3 980.2 L554.5 978.0 L554.7 978.8 L555.1 977.1 L555.3 978.3 L555.4 977.9 L555.5 978.0 L555.8 976.4 L556.0 976.3 L556.1 976.5 L556.4 975.9 L556.5 976.4 L556.7 974.4 L556.9 975.4 L557.0 973.8 L557.2 975.2 L557.5 973.9 L557.6 974.2 L557.9 972.5 L558.1 973.2 L558.2 972.7 L558.4 973.6 L558.4 973.0 L558.6 973.7 L559.0 971.6 L559.1 971.4 L559.3 972.8 L559.4 972.3 L559.6 974.3 L559.9 973.3 L560.1 974.9 L560.3 974.2 L560.4 974.4 L560.5 973.9 L560.8 975.9 L560.9 975.3 L561.1 976.3 L561.2 975.6 L561.4 976.5 L561.6 978.0 L561.7 977.5 L561.8 978.1 L561.9 977.9 L562.0 979.0 L562.1 978.5 L562.3 979.9 L562.3 979.0 L562.5 979.8 L562.6 979.2 L562.8 980.5 L563.0 979.7 L563.2 981.1 L563.4 980.8 L563.5 981.0 L563.5 980.5 L563.7 981.4 L563.8 979.9 L563.9 980.2 L564.0 979.7 L564.1 980.0 L564.2 979.5 L564.3 980.0 L564.6 978.2 L564.7 978.4 L564.9 976.5 L565.1 977.0 L565.2 976.6 L565.3 977.0 L565.6 974.4 L565.9 973.2 L566.0 974.0 L566.2 973.6 L566.5 973.0 L567.2 973.3 L567.4 973.0 L567.4 973.5 L567.5 973.0 L567.7 973.8 L568.1 972.5 L568.2 973.7 L568.4 972.8 L568.5 973.8 L568.6 972.6 L568.9 973.6 L569.0 973.0 L569.4 973.7 L569.4 973.2 L569.6 973.7 L570.0 971.7 L570.3 973.5 L570.4 973.1 L570.5 973.4 L570.6 973.2 L570.7 973.7 L570.8 973.2 L571.0 974.1 L571.3 973.2 L571.5 974.5 L571.7 974.1 L571.9 974.8 L572.1 973.7 L572.1 974.2 L572.2 973.8 L572.4 974.4 L572.5 973.8 L572.7 976.4 L572.8 975.5 L572.9 976.8 L573.2 976.0 L573.4 975.3 L573.6 976.2 L573.9 973.8 L574.1 972.0 L574.3 972.4 L574.7 969.1 L575.0 967.9 L575.4 971.6 L575.5 971.8 L575.6 971.4 L575.8 972.1 L576.1 971.1 L576.4 970.6 L576.8 972.5 L576.9 972.8 L577.1 972.0 L577.2 972.1 L577.3 971.0 L577.4 971.2 L577.5 971.1 L577.6 971.2 L577.7 970.2 L577.8 970.5 L577.9 970.2 L578.3 973.1 L578.4 972.5 L578.5 973.1 L578.6 972.5 L578.8 973.7 L579.0 974.7 L579.1 973.9 L579.2 974.5 L579.6 972.9 L579.7 973.5 L580.0 970.6 L580.1 970.9 L580.3 970.4 L580.5 971.1 L581.1 967.0 L581.1 966.8 L581.2 967.2 L581.3 966.2 L581.5 967.2 L581.5 966.7 L581.7 967.0 L581.9 966.6 L582.0 966.0 L582.3 967.5 L582.4 966.7 L582.5 967.1 L582.6 966.6 L582.7 967.4 L583.0 966.0 L583.1 966.5 L583.4 966.0 L583.5 965.1 L583.9 966.3 L584.0 965.7 L584.2 966.1 L584.4 967.1 L584.5 966.5 L584.6 966.9 L584.7 965.5 L585.0 968.6 L585.1 968.0 L585.2 968.2 L585.8 964.8 L586.5 969.2 L586.6 968.8 L586.6 969.7 L586.8 968.6 L587.0 969.6 L587.0 969.1 L587.1 969.4 L587.3 968.1 L587.5 968.8 L587.6 968.7 L587.7 968.9 L587.9 967.7 L588.0 967.9 L588.1 967.7 L588.3 968.6 L588.7 970.9 L589.7 964.5 L590.0 963.6 L590.3 965.3 L590.4 964.9 L590.5 965.4 L590.9 962.7 L591.0 963.4 L592.0 957.0 L592.1 955.9 L592.2 955.7 L592.7 958.8 L592.9 958.1 L593.0 957.8 L593.4 960.7 L593.6 959.4 L594.0 961.3 L594.0 960.0 L594.4 962.4 L594.8 958.9 L595.0 959.3 L595.1 959.0 L595.2 959.5 L595.3 959.1 L595.4 959.6 L595.8 958.1 L595.9 958.3 L596.0 957.8 L596.4 959.4 L596.5 959.2 L596.6 959.7 L596.8 958.8 L597.2 960.5 L597.3 960.0 L597.5 959.9 L597.6 960.3 L597.9 959.2 L598.1 960.7 L598.4 959.4 L598.7 961.6 L598.8 961.1 L598.9 961.3 L599.3 957.8 L599.5 959.2 L599.9 957.5 L600.1 957.8 L600.2 957.3 L600.3 957.5 L600.4 956.1 L600.6 956.8 L600.9 955.6 L601.1 957.1 L601.7 952.7 L601.8 952.9 L602.1 951.6 L602.6 955.5 L603.0 951.3 L603.5 953.7 L603.6 953.4 L603.8 954.0 L603.8 953.0 L603.9 954.0 L604.1 953.2 L604.2 953.5 L604.4 951.2 L604.7 953.7 L605.1 951.2 L605.3 951.0 L605.4 951.3 L605.4 951.1 L605.7 949.6 L605.8 948.8 L605.9 949.9 L606.2 949.1 L606.6 951.9 L606.9 951.0 L607.0 951.5 L607.1 950.9 L607.6 948.6 L607.7 949.3 L607.8 949.0 L608.3 951.5 L608.4 950.9 L608.5 951.2 L608.6 950.7 L608.8 950.7 L608.9 951.1 L609.1 950.7 L609.3 949.9 L609.7 947.4 L610.1 948.8 L610.5 946.9 L610.9 943.6 L610.9 944.1 L611.3 945.9 L611.6 947.7 L611.8 947.4 L612.0 946.0 L612.1 945.1 L612.3 946.2 L612.4 945.2 L612.5 947.2 L612.7 947.7 L613.2 942.8 L613.6 940.3 L613.8 941.3 L614.0 940.3 L614.3 942.9 L614.8 939.8 L614.8 940.3 L615.0 939.4 L615.1 940.0 L615.2 938.9 L615.4 938.1 L615.8 939.7 L616.1 938.6 L616.2 939.0 L616.3 938.5 L616.5 939.1 L616.6 938.9 L616.9 940.5 L617.2 936.9 L617.6 939.1 L617.7 938.3 L617.9 938.5 L618.2 940.2 L618.3 940.6 L618.3 940.1 L618.6 941.6 L619.0 939.6 L619.1 940.3 L619.5 938.6 L619.7 939.9 L619.8 939.7 L620.2 940.5 L620.8 937.2 L621.0 937.8 L621.6 933.7 L621.8 934.8 L622.2 933.5 L622.4 934.2 L622.8 929.5 L622.9 929.3 L623.2 930.8 L623.3 930.4 L623.4 931.0 L623.4 930.7 L623.5 931.0 L623.7 930.0 L624.1 932.2 L624.2 932.3 L624.7 929.5 L624.9 929.9 L625.1 928.5 L625.2 928.8 L625.3 928.6 L625.4 927.9 L625.7 928.4 L625.9 927.5 L626.5 931.1 L626.6 930.8 L626.8 931.6 L627.0 931.3 L627.1 930.6 L627.2 931.2 L627.7 928.1 L627.9 929.1 L628.2 927.4 L628.5 929.4 L628.7 929.1 L628.8 929.6 L629.0 931.0 L629.2 931.2 L629.3 930.5 L629.6 932.8 L630.2 928.4 L630.3 929.0 L630.7 927.8 L631.2 931.5 L631.6 929.2 L631.9 927.6 L632.0 928.2 L632.4 924.8 L632.6 925.1 L633.1 922.4 L633.4 924.1 L633.6 924.3 L633.7 923.9 L634.1 926.1 L634.3 925.0 L634.3 925.7 L634.7 923.3 L634.8 923.9 L635.3 920.9 L635.5 921.3 L635.5 920.9 L635.6 921.5 L635.8 920.9 L636.2 923.8 L636.3 922.9 L636.4 923.0 L636.5 922.8 L636.7 923.5 L637.0 921.5 L637.1 922.7 L637.2 922.4 L637.5 921.1 L637.5 921.2 L637.6 921.1 L637.7 921.3 L637.9 920.5 L638.3 921.2 L638.3 920.6 L638.4 921.2 L638.6 920.7 L638.6 921.3 L638.7 920.9 L639.1 922.6 L639.4 921.8 L639.6 924.3 L640.0 921.9 L640.1 921.7 L640.2 922.0 L640.5 919.1 L640.6 919.5 L640.6 919.0 L640.7 919.5 L640.9 919.0 L641.2 920.8 L641.5 919.4 L641.8 920.7 L642.2 918.8 L642.3 919.5 L642.6 917.1 L642.8 918.6 L643.3 913.8 L643.3 914.0 L643.7 912.1 L643.9 912.8 L644.1 911.7 L644.3 911.8 L644.6 910.4 L644.9 911.8 L645.2 911.2 L645.5 912.4 L645.7 911.6 L645.8 911.9 L645.9 911.5 L646.0 912.1 L646.1 911.5 L646.5 909.7 L646.6 910.1 L647.1 907.4 L647.3 908.0 L647.4 907.2 L647.5 908.0 L647.6 907.6 L647.7 909.9 L647.8 909.1 L647.9 910.1 L648.0 909.8 L648.4 913.1 L649.1 907.1 L649.3 907.6 L649.4 907.3 L650.0 911.2 L650.1 911.9 L650.5 910.5 L650.8 912.4 L651.0 911.3 L651.1 911.5 L651.2 912.4 L651.6 910.1 L651.7 909.9 L651.9 910.8 L652.3 907.9 L652.5 907.5 L652.7 908.0 L653.1 905.6 L653.2 906.8 L653.3 906.6 L653.5 907.5 L653.5 906.8 L653.7 907.8 L653.8 907.3 L653.9 907.5 L654.0 906.3 L654.1 906.6 L654.4 904.8 L654.6 905.7 L654.7 905.4 L654.9 905.8 L655.2 907.4 L655.7 905.3 L655.8 905.6 L656.3 902.3 L656.3 903.0 L656.6 900.0 L656.8 900.8 L657.0 900.7 L657.0 899.7 L657.4 902.3 L657.8 901.4 L657.8 901.7 L658.0 900.8 L658.1 901.0 L658.2 900.6 L658.2 901.2 L658.4 900.7 L658.5 901.3 L658.8 898.7 L659.5 902.6 L659.8 902.1 L660.3 905.8 L660.8 903.5 L661.0 903.1 L661.1 902.7 L661.6 906.6 L661.7 906.9 L661.9 906.0 L662.0 906.7 L662.5 901.4 L662.6 901.9 L663.0 899.3 L663.3 899.5 L663.3 899.9 L663.6 898.4 L663.9 899.1 L664.0 898.0 L664.1 898.3 L664.1 897.4 L664.3 898.7 L664.9 896.2 L665.1 896.6 L665.2 897.5 L665.3 896.5 L665.4 896.9 L665.5 895.8 L665.8 899.4 L666.1 897.6 L666.6 897.6 L666.8 896.6 L666.8 897.0 L667.0 896.4 L667.2 895.9 L667.6 896.8 L667.7 896.6 L668.1 898.6 L668.3 898.0 L668.4 898.3 L668.8 895.0 L668.9 895.7 L669.0 895.3 L669.2 896.4 L669.2 895.8 L669.3 896.2 L669.5 895.5 L669.6 895.7 L669.6 895.1 L670.0 896.7 L670.1 896.1 L670.4 896.9 L670.6 896.7 L670.7 895.3 L670.8 895.7 L671.1 897.1 L671.6 895.0 L672.0 897.1 L672.3 896.4 L672.6 898.7 L672.8 896.9 L673.0 897.8 L673.3 896.9 L673.5 897.7 L673.7 896.8 L673.9 897.8 L674.3 895.2 L674.3 895.6 L674.4 895.3 L674.6 896.4 L675.0 893.8 L675.0 894.3 L675.2 893.4 L675.3 894.0 L675.5 893.6 L675.6 893.8 L675.8 893.0 L675.8 893.3 L675.9 892.4 L676.2 894.1 L676.5 893.0 L677.4 897.0 L677.5 897.1 L678.0 895.2 L678.1 895.6 L678.5 892.8 L678.9 889.8 L679.3 890.7 L679.6 892.5 L679.7 892.0 L680.1 895.2 L680.3 893.4 L680.9 896.0 L681.3 894.2 L681.3 894.6 L681.4 894.3 L681.5 894.6 L681.7 893.8 L681.7 894.1 L682.1 892.6 L682.5 895.0 L682.5 894.3 L682.6 894.5 L682.7 893.9 L682.9 895.5 L683.6 892.4 L683.6 893.5 L683.8 892.2 L683.9 892.9 L684.0 891.5 L684.1 892.5 L684.2 892.2 L684.4 893.8 L684.4 893.1 L684.5 893.3 L684.7 891.4 L684.8 891.7 L684.8 890.8 L685.2 892.5 L685.5 890.8 L685.7 891.5 L685.9 891.1 L686.2 892.1 L686.4 890.7 L686.6 891.5 L686.7 891.2 L686.8 891.7 L686.8 891.0 L686.9 891.4 L687.0 891.1 L687.5 893.4 L687.6 893.0 L687.9 894.3 L688.2 893.5 L688.3 894.2 L689.0 891.2 L689.1 892.2 L689.5 888.9 L689.7 889.7 L690.2 892.0 L690.3 891.2 L690.5 892.3 L690.7 892.0 L691.1 895.6 L691.5 893.7 L692.0 895.7 L692.3 894.5 L692.5 895.0 L692.6 894.8 L692.9 897.1 L693.0 896.7 L693.0 897.0 L693.2 895.6 L693.3 896.4 L693.4 895.2 L693.8 897.0 L693.9 895.9 L694.0 896.8 L694.3 894.6 L695.0 890.9 L695.3 890.6 L695.5 891.6 L695.8 891.0 L695.9 891.3 L696.2 890.2 L696.3 890.2 L696.6 889.2 L696.7 888.3 L696.9 889.3 L697.2 888.3 L697.7 893.3 L697.8 892.8 L697.9 893.4 L698.1 892.3 L698.3 894.0 L699.0 890.4 L699.3 891.9 L699.7 890.6 L700.1 893.8 L700.5 892.4 L700.8 894.5 L700.9 894.1 L701.3 895.8 L701.7 891.9 L701.8 892.6 L701.9 892.2 L702.4 894.2 L702.4 893.0 L702.8 895.5 L702.8 895.1 L703.2 897.5 L703.2 897.1 L703.4 897.6 L703.7 895.3 L704.2 897.8 L704.3 897.3 L704.4 898.0 L704.7 896.9 L704.8 896.4 L705.0 897.1 L705.3 893.6 L705.4 894.0 L705.5 893.8 L705.6 894.6 L705.7 894.0 L705.9 894.1 L706.0 894.5 L706.2 893.9 L706.6 896.8 L706.9 894.4 L707.1 894.6 L707.5 893.0 L707.7 893.5 L708.0 895.2 L708.4 892.6 L708.5 893.2 L708.7 892.8 L709.1 896.0 L709.3 895.8 L709.7 898.0 L709.9 897.0 L710.3 895.7 L710.8 898.1 L711.0 897.0 L711.2 897.9 L711.4 897.3 L711.5 898.3 L711.9 901.1 L712.5 897.6 L712.6 897.3 L712.7 898.2 L712.8 897.7 L713.0 898.7 L713.0 898.5 L713.5 901.9 L713.7 901.0 L713.8 901.3 L713.9 900.7 L714.0 900.9 L714.2 900.7 L714.2 900.8 L714.3 900.6 L714.5 901.0 L714.6 900.7 L714.6 901.1 L714.7 900.9 L714.9 902.2 L715.1 901.2 L715.2 901.4 L715.8 897.6 L716.0 897.7 L716.1 897.1 L716.2 897.2 L716.4 896.9 L716.6 897.5 L716.8 897.0 L716.9 896.5 L717.0 897.1 L717.1 896.7 L717.3 897.2 L717.3 896.9 L717.5 897.8 L717.8 898.7 L718.1 901.9 L718.5 903.2 L718.6 902.9 L718.9 903.8 L719.2 901.6 L719.3 902.2 L719.5 900.4 L719.9 904.7 L720.2 903.9 L720.6 902.2 L720.9 903.9 L721.2 902.3 L721.4 904.0 L721.8 903.2 L722.1 905.5 L722.4 904.6 L722.6 905.2 L722.7 905.1 L722.8 905.3 L723.1 904.6 L723.4 909.3 L723.5 908.6 L723.6 909.2 L723.7 908.6 L723.8 908.9 L724.0 907.0 L724.3 907.4 L724.4 907.0 L724.6 908.7 L724.8 907.4 L725.0 907.8 L725.1 907.6 L725.1 907.9 L725.2 907.6 L725.7 909.1 L726.2 904.6 L726.5 906.4 L726.7 905.7 L727.0 906.7 L727.2 904.8 L727.6 907.2 L727.9 906.6 L728.1 906.8 L728.3 906.8 L728.4 907.6 L728.6 908.2 L728.6 907.3 L729.0 908.0 L729.0 907.8 L729.4 909.3 L729.4 908.9 L729.7 909.9 L729.9 909.6 L730.4 911.1 L730.7 909.5 L731.0 911.0 L731.1 910.8 L731.2 911.4 L731.3 910.6 L731.4 911.4 L731.5 910.4 L731.6 911.2 L731.8 909.7 L731.9 909.5 L732.6 913.9 L732.7 913.6 L733.3 916.4 L733.3 917.9 L733.4 917.5 L733.6 918.0 L733.7 917.5 L734.0 918.3 L734.1 918.8 L734.8 916.0 L735.0 916.7 L735.3 915.1 L735.7 916.1 L735.9 914.8 L736.1 916.1 L736.3 915.4 L736.5 915.7 L736.5 914.9 L736.6 915.9 L736.8 915.1 L736.9 914.3 L737.3 914.9 L737.5 914.5 L737.8 917.2 L737.9 916.9 L738.0 917.4 L738.1 916.8 L738.2 917.6 L738.4 919.3 L738.8 916.9 L739.0 916.8 L739.1 917.4 L739.2 916.9 L739.6 918.4 L739.7 918.1 L739.9 919.5 L740.0 919.7 L740.1 919.2 L740.2 919.6 L740.5 917.7 L741.0 919.9 L741.2 919.9 L741.4 921.1 L741.8 922.7 L742.0 922.4 L742.1 923.0 L742.7 919.4 L743.8 926.4 L744.1 923.8 L744.3 924.9 L744.4 924.5 L744.7 926.9 L745.0 924.1 L745.2 924.7 L745.3 924.2 L745.4 924.5 L745.5 923.9 L745.6 924.6 L745.7 924.4 L746.0 926.0 L746.3 925.6 L746.3 925.0 L746.5 925.7 L746.6 925.6 L746.6 925.9 L746.9 924.5 L747.0 924.9 L747.0 924.0 L747.2 924.7 L747.3 924.2 L747.4 925.5 L747.5 925.2 L747.7 925.9 L748.1 924.3 L748.6 926.9 L748.8 923.6 L749.0 924.7 L749.0 924.5 L749.1 925.3 L749.3 925.0 L749.4 925.7 L749.6 925.2 L750.1 927.8 L750.2 927.6 L750.8 929.5 L751.0 928.6 L751.3 928.9 L751.6 931.7 L751.7 931.1 L752.0 932.5 L752.1 931.0 L752.5 933.2 L752.8 932.0 L752.9 932.2 L752.9 931.8 L753.1 932.4 L753.4 930.3 L753.7 932.2 L753.9 931.5 L754.3 934.3 L754.4 934.1 L754.9 935.7 L755.1 935.0 L755.4 936.6 L755.8 934.6 L755.9 934.9 L756.0 934.4 L756.0 934.5 L756.3 934.0 L756.8 939.0 L756.8 938.3 L756.9 938.9 L757.2 936.6 L757.6 936.0 L757.8 934.4 L758.2 937.5 L758.4 937.1 L758.7 939.1 L758.8 938.6 L758.8 939.2 L759.5 935.1 L759.6 935.5 L759.6 935.2 L760.3 938.8 L760.5 939.8 L760.6 939.3 L761.1 940.7 L761.3 939.8 L761.5 941.0 L761.9 939.5 L762.3 942.1 L762.4 941.1 L762.5 941.4 L762.6 940.3 L762.7 941.2 L762.8 940.8 L762.9 941.8 L763.1 940.6 L763.7 944.1 L763.8 943.7 L763.9 943.8 L764.3 945.9 L764.4 945.6 L764.8 947.5 L765.4 944.8 L765.5 945.5 L765.6 945.2 L765.7 945.5 L765.9 944.6 L766.1 943.9 L766.4 946.4 L766.5 945.5 L766.9 946.9 L767.1 946.3 L767.4 947.7 L767.8 946.3 L768.2 948.1 L768.6 946.0 L768.7 946.6 L768.8 946.1 L768.9 947.2 L769.0 947.0 L769.1 947.8 L769.7 943.9 L770.1 944.8 L770.8 949.3 L771.2 947.2 L771.5 948.5 L772.0 949.8 L772.1 949.6 L772.1 949.8 L772.3 948.8 L772.7 953.9 L773.0 952.4 L773.2 953.1 L773.3 952.1 L773.4 952.8 L773.6 953.5 L773.9 954.6 L774.3 951.3 L774.6 953.3 L774.7 952.5 L774.8 954.6 L774.9 954.3 L775.0 955.2 L775.4 952.1 L775.5 952.4 L775.6 951.6 L775.7 952.7 L775.8 952.3 L776.0 953.4 L776.0 953.0 L776.5 956.7 L776.8 955.7 L777.0 956.9 L777.1 956.3 L777.2 956.7 L777.4 954.6 L777.7 956.5 L778.2 954.3 L778.3 953.9 L778.4 954.2 L778.5 954.0 L779.5 956.8 L779.6 956.5 L779.8 955.9 L779.9 956.0 L780.0 955.2 L780.2 955.9 L780.3 955.1 L780.3 955.6 L780.7 953.7 L781.4 956.7 L781.9 961.2 L782.0 960.5 L782.1 960.9 L782.2 960.7 L782.3 961.1 L782.6 959.0 L782.7 960.2 L783.2 956.2 L784.2 960.5 L784.6 962.4 L784.6 962.2 L785.0 963.5 L785.0 963.3 L785.4 965.9 L785.6 964.4 L785.8 965.3 L786.1 964.3 L786.2 964.7 L786.6 961.9 L786.7 963.0 L786.8 962.6 L787.3 965.2 L787.3 964.8 L787.5 965.6 L787.6 965.2 L788.0 967.8 L788.2 966.2 L788.4 965.5 L788.6 964.1 L788.7 963.7 L788.9 965.2 L789.2 963.7 L789.4 964.8 L790.0 961.1 L790.1 961.5 L790.1 960.8 L790.2 961.0 L790.4 960.1 L790.8 964.1 L791.1 963.3 L791.4 965.5 L791.5 965.4 L791.6 965.7 L792.2 959.0 L792.6 961.5 L792.7 961.3 L793.2 966.1 L793.3 965.6 L793.6 966.0 L793.8 965.1 L793.9 965.2 L794.1 964.4 L794.6 968.5 L794.8 967.7 L795.4 972.6 L795.6 971.8 L795.7 970.9 L795.8 971.5 L795.9 971.4 L796.1 971.7 L796.5 969.4 L796.7 970.6 L796.9 969.5 L797.0 970.2 L797.1 969.9 L797.2 970.7 L797.3 969.9 L797.5 970.8 L797.6 971.1 L797.7 970.6 L797.8 971.0 L797.9 970.8 L798.0 971.4 L798.1 970.8 L798.3 971.5 L798.5 970.9 L798.7 971.7 L799.0 971.2 L799.1 971.4 L799.2 970.3 L799.3 970.6 L799.4 970.3 L799.5 971.3 L799.9 968.8 L799.9 969.2 L800.2 967.0 L800.5 968.8 L800.6 968.5 L801.0 971.3 L801.3 970.5 L801.7 973.1 L801.8 972.9 L802.0 974.1 L802.2 973.7 L802.3 973.1 L802.4 973.6 L802.7 971.3 L802.9 970.8 L803.0 971.1 L803.4 968.7 L804.0 972.4 L804.2 973.5 L804.2 973.0 L804.4 974.1 L804.6 973.0 L804.7 973.5 L805.3 969.2 L806.0 973.7 L806.2 975.0 L806.5 973.6 L806.9 976.3 L807.0 976.8 L807.1 976.4 L807.5 978.3 L807.7 976.3 L807.8 976.0 L808.0 976.7 L808.1 976.2 L808.2 977.1 L808.4 976.4 L808.5 977.7 L808.5 977.3 L808.6 977.7 L808.9 974.6 L809.0 975.2 L809.2 974.0 L809.3 974.7 L809.4 974.2 L809.6 973.8 L809.7 973.4 L809.9 974.8 L810.0 974.5 L810.0 975.2 L810.2 974.2 L810.4 974.9 L810.5 974.5 L810.6 974.8 L810.8 973.1 L810.8 973.9 L810.9 973.4 L811.3 976.5 L811.6 976.1 L812.0 973.1 L812.4 975.2 L812.7 975.2 L812.8 974.9 L813.2 976.8 L813.6 973.6 L813.8 974.8 L813.9 975.0 L813.9 974.4 L814.0 975.4 L814.3 974.9 L814.3 973.8 L814.7 976.8 L814.9 977.7 L815.0 976.7 L815.1 977.6 L815.3 978.2 L815.5 977.4 L815.5 977.7 L815.6 977.3 L815.7 977.5 L815.9 976.6 L816.2 979.4 L816.3 978.4 L816.6 979.7 L816.8 980.0 L817.0 981.3 L817.5 978.7 L817.8 980.3 L818.0 979.0 L818.2 980.0 L818.8 974.7 L819.1 976.4 L819.4 975.1 L819.8 976.9 L820.0 977.2 L820.3 975.9 L820.4 976.3 L820.5 976.1 L820.6 976.7 L820.7 976.3 L821.0 977.9 L821.5 974.7 L821.9 976.0 L822.0 975.4 L822.2 975.9 L822.2 975.5 L822.3 975.8 L822.6 974.3 L822.8 974.8 L822.9 974.0 L822.9 974.4 L823.0 973.3 L823.2 973.9 L823.3 973.4 L823.3 973.7 L823.5 973.5 L823.7 974.6 L823.7 973.9 L823.9 975.1 L824.0 974.8 L824.1 975.7 L824.2 975.3 L824.3 975.5 L824.5 974.7 L825.2 977.5 L825.4 976.4 L825.6 977.1 L825.7 976.7 L826.1 976.2 L826.2 975.2 L826.3 976.1 L826.5 975.2 L826.5 975.7 L826.7 975.3 L826.9 976.4 L827.0 977.2 L827.1 976.6 L827.6 979.1 L827.7 978.4 L827.8 978.6 L827.9 978.0 L828.0 978.3 L828.7 974.4 L828.9 974.2 L829.5 977.5 L830.0 974.0 L830.2 972.8 L830.4 973.2 L830.6 974.8 L830.9 973.8 L831.2 976.9 L831.3 976.6 L831.5 977.5 L831.8 979.2 L832.1 976.0 L832.6 971.6 L833.1 974.3 L833.2 974.0 L833.5 975.3 L833.9 972.8 L834.5 976.4 L834.6 976.2 L834.7 977.4 L834.7 976.5 L834.9 977.7 L835.0 976.7 L835.1 977.3 L835.5 975.4 L835.8 975.9 L836.2 974.3 L836.3 974.4 L836.3 974.1 L836.4 975.2 L836.5 975.0 L836.6 976.2 L836.7 975.2 L836.8 975.7 L837.0 975.0 L837.1 975.2 L837.4 972.5 L837.6 973.7 L837.9 972.7 L838.2 974.4 L838.3 975.8 L838.4 974.7 L838.5 975.2 L838.6 974.3 L838.7 974.8 L839.0 973.3 L839.2 973.9 L839.5 973.0 L839.6 973.6 L839.7 973.1 L839.8 973.6 L839.9 972.9 L840.1 971.8 L840.2 972.4 L840.3 972.1 L840.4 973.0 L840.7 971.9 L840.8 972.1 L840.9 971.6 L840.9 972.0 L841.3 969.4 L841.3 969.7 L841.7 967.6 L842.1 970.1 L842.2 969.0 L842.6 970.8 L843.2 968.6 L843.3 968.9 L843.3 968.1 L843.5 968.5 L843.6 967.8 L843.8 969.5 L843.9 969.8 L844.1 969.1 L844.5 973.2 L844.6 973.7 L844.8 972.8 L845.0 973.2 L845.3 970.6 L845.4 971.0 L845.6 970.3 L845.6 970.6 L846.0 968.5 L846.4 971.8 L846.7 970.6 L846.8 972.6 L847.2 970.4 L847.3 971.5 L847.8 968.5 L847.9 968.4 L848.0 968.6 L848.2 967.8 L848.6 970.3 L848.9 969.2 L849.2 971.1 L849.4 970.1 L849.5 970.5 L849.8 968.3 L849.9 969.4 L850.0 968.9 L850.1 969.4 L850.3 967.8 L850.7 966.0 L851.2 967.8 L851.8 965.3 L852.3 966.3 L852.4 966.9 L852.6 967.3 L852.8 966.1 L853.1 967.9 L853.4 964.3 L853.5 965.0 L853.8 964.3 L854.1 966.8 L854.3 965.7 L854.5 966.6 L854.8 964.6 L855.1 966.2 L855.4 963.0 L855.5 963.9 L855.6 963.1 L855.7 963.5 L855.8 963.0 L856.0 962.1 L856.3 962.8 L856.6 961.9 L856.7 962.3 L856.9 961.9 L857.0 961.8 L857.2 962.4 L857.4 961.7 L857.5 961.7 L858.1 963.7 L858.2 963.5 L858.2 963.8 L858.4 962.6 L858.6 963.2 L858.6 963.0 L859.0 963.8 L859.7 960.8 L860.1 962.3 L860.1 962.0 L860.5 964.2 L860.7 964.2 L860.8 963.6 L860.9 964.0 L861.3 962.1 L861.4 962.4 L861.8 959.9 L861.9 960.0 L862.2 959.0 L862.3 959.4 L862.6 956.3 L863.3 959.3 L863.7 955.2 L864.0 957.4 L864.5 953.5 L864.6 954.2 L864.8 953.6 L864.8 954.1 L865.0 952.8 L865.4 954.8 L865.5 953.8 L865.6 954.4 L865.6 953.9 L865.9 954.7 L866.4 952.8 L866.4 951.1 L866.6 951.7 L866.9 952.6 L867.2 955.2 L867.4 954.1 L867.7 957.2 L867.9 955.0 L868.0 955.5 L868.1 955.0 L868.3 955.6 L868.3 955.1 L868.5 955.7 L868.7 954.9 L868.7 955.3 L868.9 954.6 L869.0 955.2 L869.1 954.0 L869.1 954.6 L869.3 953.8 L869.4 954.6 L869.5 953.9 L869.5 954.3 L869.7 953.7 L870.0 954.3 L870.1 954.1 L870.6 957.7 L870.9 954.1 L871.2 951.7 L871.3 952.2 L871.7 950.7 L871.9 951.9 L871.9 951.7 L872.1 952.1 L872.2 951.5 L872.3 952.1 L873.0 946.8 L873.2 948.0 L873.4 947.3 L873.4 947.6 L873.6 947.3 L873.7 948.2 L873.8 947.9 L873.9 948.8 L874.0 948.6 L874.1 949.2 L875.0 946.4 L875.0 946.6 L875.3 946.4 L875.6 947.8 L875.9 945.9 L876.2 947.0 L876.4 944.7 L876.8 947.9 L876.9 947.3 L876.9 947.5 L877.1 946.5 L877.3 947.3 L877.8 945.1 L877.9 944.3 L878.0 944.7 L878.1 943.8 L878.2 944.2 L878.3 943.6 L878.5 944.2 L878.6 943.7 L878.9 945.1 L879.4 946.3 L879.6 945.8 L879.9 946.7 L880.1 945.6 L880.5 946.6 L881.1 940.3 L881.2 940.8 L881.6 938.4 L881.7 938.2 L881.9 938.7 L882.0 938.5 L882.4 938.7 L882.4 938.5 L882.5 938.8 L882.9 936.8 L883.2 939.2 L883.5 938.0 L883.6 939.2 L883.8 938.7 L883.9 939.2 L884.0 938.8 L884.1 940.5 L884.4 937.2 L884.7 938.3 L884.9 937.0 L885.0 937.3 L885.3 936.4 L885.8 939.4 L885.9 938.1 L886.0 938.8 L886.1 937.8 L886.2 938.4 L886.7 933.8 L886.9 934.0 L887.0 933.6 L887.4 935.7 L887.5 935.5 L887.6 936.1 L887.8 936.2 L887.9 935.9 L888.0 936.4 L888.3 935.9 L888.5 936.4 L888.7 935.5 L888.8 935.7 L888.9 935.5 L889.2 936.5 L889.3 936.0 L889.4 936.3 L889.5 935.6 L889.6 936.4 L889.8 934.5 L890.1 935.9 L890.3 935.4 L890.3 935.8 L890.4 935.5 L890.6 936.1 L891.2 931.4 L891.3 931.5 L891.7 929.9 L891.9 927.5 L892.2 928.1 L892.3 927.3 L892.4 928.4 L892.5 928.1 L892.6 928.7 L892.7 928.1 L892.8 929.5 L893.0 929.1 L893.0 929.4 L893.1 929.2 L893.3 929.5 L893.4 929.1 L893.7 930.5 L894.3 927.2 L894.7 929.9 L895.1 927.7 L895.3 928.1 L895.5 926.8 L895.8 928.5 L896.0 927.6 L896.3 928.9 L896.5 928.4 L896.5 928.6 L896.9 926.6 L897.1 927.1 L897.3 925.5 L897.4 926.2 L897.6 926.7 L897.9 923.9 L898.0 924.3 L898.2 922.9 L898.4 922.9 L898.5 924.4 L898.6 923.9 L898.7 924.6 L898.8 923.9 L898.9 924.5 L899.0 923.5 L899.2 924.4 L899.3 924.0 L899.4 924.5 L899.7 926.2 L900.0 924.1 L900.2 923.8 L900.3 924.2 L900.4 923.3 L900.5 923.6 L900.6 923.2 L900.7 923.4 L901.1 920.7 L901.2 920.9 L901.3 920.6 L901.4 921.4 L901.6 920.2 L901.9 921.2 L902.3 922.6 L903.0 918.4 L903.1 919.0 L903.2 918.0 L903.3 918.7 L903.4 917.8 L903.6 918.9 L903.9 916.3 L904.3 917.9 L904.4 917.2 L904.5 917.7 L904.7 916.7 L904.7 916.9 L904.8 916.6 L905.0 917.3 L905.1 916.7 L905.2 917.1 L905.6 919.5 L906.2 915.6 L906.5 916.5 L906.6 916.0 L906.9 917.4 L907.0 917.0 L907.1 916.2 L907.2 916.7 L907.3 916.5 L907.5 917.3 L907.5 917.1 L907.6 917.3 L907.7 916.8 L908.0 917.5 L908.2 915.7 L908.2 916.0 L908.3 915.8 L908.5 917.0 L908.6 916.6 L908.8 916.7 L908.9 916.4 L909.0 916.9 L909.1 916.5 L909.3 917.7 L909.4 917.0 L909.5 917.4 L909.9 915.6 L910.3 914.1 L910.6 915.1 L911.0 913.6 L911.4 916.4 L911.5 915.0 L911.6 915.4 L911.7 914.9 L911.9 916.2 L912.3 914.2 L912.7 911.5 L913.3 915.2 L913.4 914.9 L913.5 915.6 L913.9 910.6 L914.0 911.0 L914.5 906.0 L914.8 905.8 L915.1 906.3 L915.3 908.3 L915.6 907.0 L915.7 908.2 L916.2 905.7 L916.4 906.1 L916.6 905.0 L917.1 908.7 L917.4 906.5 L917.5 906.7 L917.8 905.5 L918.1 907.6 L918.2 907.4 L918.5 907.7 L919.0 906.2 L919.4 905.2 L919.6 907.9 L919.9 906.0 L920.0 906.3 L920.4 908.0 L920.8 905.8 L920.9 905.9 L921.0 905.7 L921.4 907.4 L921.8 904.5 L922.2 906.7 L922.5 903.6 L922.6 903.9 L922.7 903.7 L923.0 904.9 L923.3 903.9 L923.5 905.2 L923.5 905.0 L923.6 905.4 L923.7 905.1 L923.9 905.2 L924.2 903.3 L924.3 903.9 L924.7 900.4 L924.7 900.9 L925.0 899.2 L925.1 898.8 L925.2 899.4 L925.4 898.7 L925.5 899.0 L925.7 898.7 L926.0 895.4 L926.3 896.9 L926.6 897.7 L926.6 897.5 L926.7 898.4 L926.9 897.2 L927.0 896.4 L927.1 896.9 L927.2 896.7 L927.4 897.3 L927.4 897.1 L927.5 897.6 L927.7 897.1 L928.0 897.2 L928.3 899.5 L928.6 897.7 L929.1 900.5 L929.3 898.3 L929.4 898.6 L929.4 898.4 L929.7 900.3 L929.8 899.8 L930.1 900.5 L930.2 899.9 L930.2 900.1 L930.3 899.9 L930.6 901.2 L930.7 902.0 L930.8 901.6 L930.9 902.3 L931.0 901.6 L931.2 902.2 L931.7 901.3 L931.7 900.4 L932.1 902.6 L932.4 901.1 L932.5 901.3 L932.5 900.9 L932.7 901.3 L933.3 897.5 L933.6 897.7 L933.7 898.2 L933.8 897.9 L934.0 898.2 L934.3 896.6 L934.5 897.5 L934.9 894.1 L935.0 894.8 L935.2 893.7 L935.6 895.4 L935.6 895.1 L935.7 895.4 L936.0 896.4 L936.0 896.0 L936.1 896.6 L936.2 896.0 L936.4 897.0 L936.4 896.8 L936.5 897.0 L936.6 896.7 L936.7 897.1 L936.8 896.9 L936.9 897.2 L937.0 896.3 L937.1 896.7 L937.3 895.1 L937.4 894.9 L937.6 896.0 L938.0 894.2 L938.2 895.5 L938.7 891.1 L938.8 891.9 L938.9 891.8 L939.3 890.9 L939.4 891.4 L939.5 890.9 L940.1 895.6 L940.4 894.1 L940.6 894.8 L940.8 895.6 L941.0 896.7 L941.1 895.8 L941.4 897.3 L941.6 896.3 L942.0 898.1 L942.6 894.3 L942.7 894.7 L943.0 893.2 L943.1 893.8 L943.2 893.3 L943.8 896.8 L944.1 894.0 L944.3 895.4 L944.9 892.2 L945.0 892.9 L945.4 890.8 L945.5 891.9 L945.7 890.2 L945.8 890.3 L945.8 889.6 L945.9 891.1 L946.2 888.9 L946.3 890.3 L946.4 889.9 L946.7 891.4 L946.8 891.2 L947.3 895.0 L947.4 894.6 L947.6 896.9 L947.9 893.1 L948.1 894.3 L948.4 891.7 L948.6 892.4 L949.0 891.3 L949.3 892.2 L949.6 891.2 L949.9 893.7 L950.1 893.3 L950.3 894.3 L950.5 892.1 L950.9 893.7 L951.1 892.8 L951.5 895.3 L951.8 892.4 L951.9 892.6 L952.5 890.0 L952.9 891.7 L953.0 891.3 L953.2 892.2 L953.3 892.7 L953.4 892.5 L953.7 894.6 L954.0 894.0 L954.1 894.4 L954.4 891.8 L954.5 892.2 L954.8 891.2 L955.0 892.7 L955.2 892.4 L955.3 892.6 L955.7 890.5 L956.1 892.6 L956.2 891.9 L956.3 892.2 L956.4 892.0 L956.5 892.4 L956.6 892.2 L956.7 892.5 L957.0 891.1 L957.1 891.5 L957.2 892.0 L957.3 891.3 L957.4 891.6 L957.5 891.5 L957.6 892.2 L957.9 890.6 L958.3 893.4 L958.7 890.9 L959.1 891.6 L959.3 890.3 L959.5 891.3 L959.9 890.3 L960.0 890.8 L960.3 889.7 L960.8 892.0 L960.9 892.6 L961.1 891.5 L961.4 892.4 L961.5 891.8 L961.6 892.3 L962.2 895.5 L962.3 895.9 L962.5 895.6 L962.6 896.1 L962.6 895.8 L962.8 896.7 L963.0 896.2 L963.1 896.8 L963.4 896.5 L963.5 895.4 L963.6 896.3 L963.9 892.7 L964.1 893.2 L964.2 892.8 L964.3 894.1 L964.6 895.5 L964.6 895.3 L964.8 895.6 L965.1 893.5 L965.4 895.9 L965.8 893.5 L966.0 894.7 L966.4 891.4 L966.8 893.4 L967.1 891.7 L967.6 894.7 L967.7 894.8 L967.7 894.5 L967.8 894.9 L968.1 894.1 L968.1 894.5 L968.5 895.8 L968.5 897.1 L968.6 896.1 L968.8 896.5 L969.2 894.1 L969.3 894.1 L969.4 893.8 L969.6 893.2 L969.7 893.6 L969.8 892.6 L970.1 893.9 L970.4 891.3 L970.5 892.6 L970.7 891.7 L971.1 895.3 L971.2 895.6 L971.4 894.5 L971.6 896.3 L971.7 895.8 L972.1 897.5 L972.4 895.7 L972.7 897.3 L972.8 897.1 L973.0 898.6 L973.1 898.3 L973.3 898.5 L973.5 899.4 L973.6 899.3 L973.6 899.4 L973.8 900.0 L974.0 900.7 L974.1 900.2 L974.2 900.4 L974.3 899.6 L974.7 902.3 L975.1 897.4 L975.2 898.1 L975.4 899.2 L976.3 892.1 L976.5 890.6 L976.9 893.6 L977.3 895.9 L977.6 898.2 L977.8 898.0 L978.0 899.0 L978.3 897.4 L978.7 899.1 L979.0 900.5 L979.1 900.0 L979.1 900.6 L979.3 900.4 L979.9 898.0 L980.3 899.4 L980.4 898.9 L980.5 899.4 L980.6 898.5 L980.7 898.8 L980.8 898.2 L980.9 898.9 L981.1 898.0 L981.3 898.3 L981.6 896.9 L981.9 899.7 L982.0 898.6 L982.1 899.0 L982.2 898.7 L982.3 899.4 L982.6 898.5 L982.8 900.3 L982.9 900.5 L983.0 900.2 L983.3 902.0 L983.4 901.9 L983.8 904.7 L984.1 903.7 L984.6 905.4 L984.8 904.3 L984.9 904.2 L985.3 906.1 L985.8 903.4 L985.9 903.8 L986.0 903.6 L986.1 903.9 L986.4 902.0 L986.5 902.2 L986.6 901.2 L986.9 903.0 L987.0 902.5 L987.6 905.6 L987.7 905.1 L987.8 905.3 L988.0 904.8 L988.1 904.9 L988.1 904.6 L988.4 905.9 L988.5 905.5 L988.9 906.7 L989.0 906.0 L989.1 906.4 L989.4 904.4 L989.6 904.8 L989.6 904.4 L990.2 907.8 L990.4 907.0 L990.6 908.1 L990.9 907.1 L991.0 907.3 L991.1 906.8 L991.2 907.2 L991.5 905.3 L991.6 906.1 L991.7 905.9 L991.8 906.2 L992.0 905.6 L992.0 905.9 L992.4 905.1 L992.8 908.4 L992.8 908.1 L993.2 909.9 L993.2 909.6 L993.7 912.1 L994.0 911.1 L994.3 912.5 L994.4 912.0 L994.5 912.6 L994.7 911.9 L994.8 910.5 L995.0 911.6 L995.1 910.9 L995.1 911.7 L995.3 910.3 L996.0 914.3 L996.3 911.5 L996.5 912.8 L996.7 911.3 L997.1 913.6 L997.4 910.9 L997.5 912.3 L997.6 911.7 L997.7 911.9 L997.9 910.5 L997.9 911.1 L998.1 910.9 L998.7 914.7 L999.0 912.9 L999.2 914.6 L999.7 912.5 L999.8 913.3 L999.9 912.9 L1000.1 913.3 L1000.4 911.5 L1000.7 913.3 L1000.9 912.7 L1001.4 915.6 L1001.7 913.7 L1002.0 915.0 L1002.2 914.4 L1002.3 915.2 L1002.4 915.1 L1002.5 915.5 L1002.6 914.8 L1002.7 916.6 L1002.9 916.2 L1003.2 918.4 L1003.3 917.6 L1003.4 918.7 L1003.5 918.3 L1003.7 920.3 L1003.7 920.0 L1003.9 920.5 L1004.1 921.1 L1004.4 922.6 L1004.5 922.7 L1004.8 920.7 L1004.9 920.9 L1004.9 920.7 L1005.1 921.3 L1005.4 919.4 L1005.7 921.9 L1006.0 921.3 L1006.2 922.3 L1006.7 919.7 L1006.9 920.3 L1007.2 921.3 L1007.6 918.1 L1007.7 918.5 L1008.0 916.9 L1008.4 918.3 L1008.6 918.0 L1009.0 920.7 L1009.3 922.5 L1009.5 922.1 L1009.6 922.2 L1010.0 920.7 L1010.5 922.7 L1010.8 921.8 L1010.9 922.7 L1011.2 922.1 L1011.3 922.7 L1011.4 922.6 L1011.6 923.2 L1011.9 921.1 L1012.3 922.3 L1012.7 923.1 L1013.1 927.0 L1013.2 926.9 L1013.5 927.9 L1013.7 927.0 L1013.8 927.9 L1013.9 927.1 L1013.9 927.6 L1014.1 927.2 L1014.3 928.9 L1014.4 928.7 L1014.6 930.1 L1014.7 929.8 L1014.8 930.6 L1015.0 931.1 L1015.1 930.6 L1015.4 932.2 L1015.5 931.7 L1015.5 931.9 L1015.9 930.6 L1016.2 932.3 L1016.6 930.8 L1016.7 931.3 L1017.0 928.9 L1017.4 931.6 L1017.8 931.1 L1018.0 932.3 L1018.7 929.2 L1018.8 929.8 L1019.1 928.2 L1019.4 930.5 L1019.6 929.1 L1019.7 930.2 L1019.8 929.6 L1019.9 931.2 L1020.0 930.4 L1020.1 931.0 L1020.2 930.7 L1020.2 931.2 L1020.3 931.0 L1020.8 934.4 L1020.9 933.9 L1021.3 934.8 L1021.4 933.7" fill="none" stroke="#0000ff" stroke-width="4.6" stroke-linejoin="round" stroke-linecap="round" clip-path="url(#cB)"/>
<g font-size="27" fill="#262626" stroke="#262626" stroke-width="0.35"><text x="83.69" y="1098.70">0</text>
<text x="216.43" y="1098.70">5</text>
<text x="356.69" y="1098.70">0</text><path transform="translate(341.67 1098.70) scale(27)" stroke-width="0.0130" d="M0.27 0L0.414 0L0.414 -0.69L0.30 -0.69Q0.24 -0.58 0.095 -0.565L0.095 -0.475Q0.18 -0.478 0.27 -0.50Z"/>
<text x="489.43" y="1098.70">5</text><path transform="translate(474.41 1098.70) scale(27)" stroke-width="0.0130" d="M0.27 0L0.414 0L0.414 -0.69L0.30 -0.69Q0.24 -0.58 0.095 -0.565L0.095 -0.475Q0.18 -0.478 0.27 -0.50Z"/>
<text x="607.15 622.17" y="1098.70">20</text>
<text x="739.90 754.91" y="1098.70">25</text>
<text x="872.64 887.66" y="1098.70">30</text>
<text x="1005.38 1020.40" y="1098.70">35</text>
<text x="66.73" y="1071.30">6</text>
<text x="66.73" y="986.64">8</text>
<text x="66.73" y="901.98">0</text><path transform="translate(51.72 901.98) scale(27)" stroke-width="0.0130" d="M0.27 0L0.414 0L0.414 -0.69L0.30 -0.69Q0.24 -0.58 0.095 -0.565L0.095 -0.475Q0.18 -0.478 0.27 -0.50Z"/>
<text x="66.73" y="817.32">2</text><path transform="translate(51.72 817.32) scale(27)" stroke-width="0.0130" d="M0.27 0L0.414 0L0.414 -0.69L0.30 -0.69Q0.24 -0.58 0.095 -0.565L0.095 -0.475Q0.18 -0.478 0.27 -0.50Z"/>
<text x="66.73" y="732.66">4</text><path transform="translate(51.72 732.66) scale(27)" stroke-width="0.0130" d="M0.27 0L0.414 0L0.414 -0.69L0.30 -0.69Q0.24 -0.58 0.095 -0.565L0.095 -0.475Q0.18 -0.478 0.27 -0.50Z"/>
<text x="66.73" y="648.00">6</text><path transform="translate(51.72 648.00) scale(27)" stroke-width="0.0130" d="M0.27 0L0.414 0L0.414 -0.69L0.30 -0.69Q0.24 -0.58 0.095 -0.565L0.095 -0.475Q0.18 -0.478 0.27 -0.50Z"/></g>
<rect x="464.2" y="659.4" width="281.9" height="132.8" fill="#fff"/>
<rect x="464.2" y="659.4" width="281.90" height="132.80" fill="none" stroke="#222222" stroke-width="2.4"/>
<line x1="529.5" y1="792.2" x2="529.5" y2="787.7" stroke="#222222" stroke-width="2.4"/>
<line x1="529.5" y1="659.4" x2="529.5" y2="663.9" stroke="#222222" stroke-width="2.4"/>
<line x1="634.6" y1="792.2" x2="634.6" y2="787.7" stroke="#222222" stroke-width="2.4"/>
<line x1="634.6" y1="659.4" x2="634.6" y2="663.9" stroke="#222222" stroke-width="2.4"/>
<line x1="739.7" y1="792.2" x2="739.7" y2="787.7" stroke="#222222" stroke-width="2.4"/>
<line x1="739.7" y1="659.4" x2="739.7" y2="663.9" stroke="#222222" stroke-width="2.4"/>
<line x1="464.2" y1="779.8" x2="468.7" y2="779.8" stroke="#222222" stroke-width="2.4"/>
<line x1="746.1" y1="779.8" x2="741.6" y2="779.8" stroke="#222222" stroke-width="2.4"/>
<line x1="464.2" y1="745.4" x2="468.7" y2="745.4" stroke="#222222" stroke-width="2.4"/>
<line x1="746.1" y1="745.4" x2="741.6" y2="745.4" stroke="#222222" stroke-width="2.4"/>
<line x1="464.2" y1="711.0" x2="468.7" y2="711.0" stroke="#222222" stroke-width="2.4"/>
<line x1="746.1" y1="711.0" x2="741.6" y2="711.0" stroke="#222222" stroke-width="2.4"/>
<line x1="464.2" y1="676.6" x2="468.7" y2="676.6" stroke="#222222" stroke-width="2.4"/>
<line x1="746.1" y1="676.6" x2="741.6" y2="676.6" stroke="#222222" stroke-width="2.4"/>
<clipPath id="cI2"><rect x="463.2" y="658.4" width="285.4" height="134.8"/></clipPath>
<path d="M445.4 749.7 L498.0 760.0 L535.8 766.7 L569.4 771.6 L599.9 775.2 L628.3 777.7 L656.7 779.2 L684.0 779.8 L711.3 779.4 L738.6 778.2 L760.7 776.5" fill="none" stroke="#ff0000" stroke-width="4.0" stroke-linejoin="round" stroke-linecap="round" clip-path="url(#cI2)"/>
<path d="M445.5 750.5 L446.2 752.8 L446.5 752.0 L446.8 751.8 L447.1 752.6 L447.4 751.7 L447.7 752.0 L448.4 751.8 L448.7 753.0 L449.3 750.9 L449.6 750.6 L449.9 750.6 L450.3 751.2 L450.9 750.1 L451.2 751.1 L451.8 751.3 L452.5 749.5 L452.8 750.2 L453.1 749.7 L453.7 750.2 L454.4 748.7 L454.7 749.3 L455.3 749.7 L455.6 750.5 L456.2 750.2 L456.6 750.3 L456.9 750.9 L457.2 752.9 L457.5 753.0 L457.8 751.7 L458.5 752.9 L458.8 753.1 L459.1 753.9 L459.7 753.4 L460.0 753.9 L460.7 755.6 L461.3 754.8 L461.6 754.6 L461.9 754.9 L462.2 755.5 L462.6 755.6 L463.2 754.4 L463.8 755.7 L464.4 755.3 L464.8 755.4 L465.1 755.4 L465.4 755.0 L465.7 755.2 L466.0 755.1 L466.7 756.1 L467.0 755.4 L467.3 755.2 L467.6 755.9 L468.2 756.1 L468.5 755.8 L469.2 755.7 L469.5 755.3 L469.8 755.6 L470.1 755.3 L470.4 755.2 L470.7 755.7 L471.1 755.5 L471.7 756.5 L472.0 756.2 L472.3 756.1 L472.6 756.6 L473.0 756.7 L473.6 755.1 L473.9 755.4 L474.2 756.0 L474.8 755.5 L475.2 755.5 L475.5 755.8 L475.8 755.5 L476.1 755.3 L476.4 755.7 L477.1 755.5 L478.0 754.4 L478.6 754.5 L479.3 754.1 L479.6 753.5 L479.9 753.5 L480.2 754.3 L480.8 753.0 L481.2 753.1 L481.8 754.3 L482.1 753.5 L482.4 753.2 L482.7 753.4 L483.0 753.0 L483.7 753.9 L484.0 753.5 L484.6 754.1 L484.9 753.9 L485.6 754.1 L485.9 753.7 L486.5 754.7 L487.1 754.6 L487.5 754.4 L487.8 753.9 L488.4 753.5 L489.0 755.7 L489.4 754.6 L489.7 754.4 L490.0 755.3 L490.6 755.9 L490.9 755.6 L491.2 755.6 L491.6 756.4 L491.9 756.6 L492.8 756.8 L493.8 757.7 L494.1 758.0 L494.4 758.6 L495.3 759.4 L495.7 759.4 L496.3 759.0 L496.9 760.4 L497.2 760.2 L497.5 760.6 L497.9 760.7 L498.2 760.2 L498.8 761.4 L499.4 761.8 L499.8 762.8 L500.1 763.2 L500.4 762.5 L500.7 762.4 L501.0 763.1 L501.6 762.6 L502.3 763.1 L502.6 763.9 L503.2 764.3 L504.2 763.7 L504.5 763.9 L504.8 764.9 L505.1 764.3 L505.7 764.9 L506.4 763.4 L506.7 763.3 L507.0 764.0 L508.0 764.4 L508.6 763.9 L509.2 764.5 L509.8 763.5 L510.2 763.7 L510.5 763.6 L510.8 763.0 L511.1 763.7 L511.4 763.8 L511.7 763.0 L512.1 763.3 L512.7 762.5 L513.0 762.9 L514.3 762.0 L514.6 761.4 L514.9 761.6 L515.2 762.4 L515.5 761.4 L516.2 761.9 L516.8 762.8 L517.4 761.9 L517.7 761.9 L518.4 761.2 L518.7 762.1 L519.0 761.7 L519.3 760.4 L519.6 760.3 L519.9 760.4 L520.6 761.0 L521.5 760.3 L521.8 759.7 L522.1 759.6 L522.8 761.4 L523.1 761.9 L523.4 761.0 L523.7 760.9 L524.0 760.4 L524.4 760.3 L524.7 761.0 L525.0 760.8 L525.6 761.3 L526.2 760.5 L526.9 760.5 L527.2 760.8 L527.5 761.9 L527.8 762.5 L528.1 762.4 L528.4 762.5 L529.1 762.2 L530.3 762.3 L531.0 764.0 L531.6 763.3 L532.2 765.0 L532.9 764.0 L533.2 764.3 L533.5 764.1 L533.8 764.3 L534.1 765.0 L534.8 765.1 L535.1 765.3 L535.7 766.1 L536.0 765.9 L536.3 766.3 L537.0 766.3 L537.6 766.8 L537.9 767.3 L538.5 767.8 L538.9 768.4 L539.5 768.0 L540.1 769.1 L540.4 769.3 L541.1 769.4 L541.4 768.8 L541.7 769.2 L542.0 769.9 L542.3 769.3 L542.6 769.3 L543.0 769.8 L543.6 769.3 L543.9 769.5 L544.2 770.1 L544.5 770.3 L544.8 770.1 L545.2 770.6 L545.5 770.6 L545.8 770.3 L546.1 770.8 L546.4 770.9 L546.7 770.7 L547.4 770.9 L547.7 771.5 L548.0 771.5 L548.3 770.9 L548.6 771.4 L548.9 771.2 L549.3 770.6 L549.9 770.4 L550.2 770.6 L550.5 771.3 L550.8 771.2 L551.2 771.0 L551.5 771.1 L552.1 770.6 L552.7 769.8 L553.0 769.9 L553.4 770.3 L553.7 770.5 L554.3 769.1 L554.6 769.4 L554.9 770.1 L555.6 769.8 L555.9 769.3 L556.2 769.4 L556.5 769.7 L556.8 769.6 L557.1 768.9 L557.5 768.7 L557.8 768.8 L558.1 768.4 L558.7 768.9 L559.3 769.1 L560.0 769.5 L560.6 768.7 L560.9 768.6 L561.2 769.1 L561.9 768.6 L562.5 768.9 L563.1 768.2 L564.1 768.7 L564.4 769.3 L564.7 768.9 L565.0 767.3 L565.3 768.0 L565.7 768.1 L566.0 767.1 L566.3 767.3 L566.9 768.1 L567.2 767.6 L567.5 767.6 L567.9 768.4 L568.2 768.4 L568.5 767.9 L568.8 767.8 L569.1 767.9 L569.4 767.8 L569.8 767.1 L570.1 767.0 L571.0 768.3 L571.3 767.7 L571.6 767.5 L572.3 768.1 L572.6 768.8 L572.9 769.0 L573.2 768.8 L573.5 768.3 L573.9 768.7 L574.2 769.6 L574.5 768.8 L574.8 768.9 L575.1 769.8 L575.4 769.7 L575.7 769.9 L576.1 770.4 L576.7 770.5 L577.3 771.1 L578.0 772.0 L578.3 771.9 L578.6 772.2 L579.2 772.3 L579.5 773.3 L580.2 772.7 L580.5 773.2 L580.8 773.1 L581.4 773.8 L581.7 773.8 L582.0 774.4 L583.0 774.8 L583.3 774.8 L583.6 775.2 L584.3 775.2 L584.6 775.4 L584.9 775.8 L585.2 775.9 L585.5 775.8 L585.8 775.4 L586.1 775.9 L586.5 777.2 L586.8 777.0 L587.1 776.4 L587.7 776.2 L588.4 776.7 L588.7 776.6 L589.3 777.3 L589.9 777.5 L590.2 777.3 L590.9 776.3 L591.5 777.1 L592.1 777.4 L592.5 777.2 L592.8 776.6 L593.1 776.7 L593.4 777.4 L594.0 777.7 L594.7 776.4 L595.0 776.8 L595.3 777.7 L595.9 777.8 L596.2 777.6 L596.6 776.7 L597.2 777.0 L597.5 776.2 L597.8 776.3 L598.1 776.0 L598.8 774.6 L599.1 773.6 L599.4 773.0 L599.7 771.9 L600.0 768.8 L601.3 744.8 L603.2 702.8 L604.1 689.3 L604.4 686.2 L604.8 685.4 L605.1 686.4 L606.0 699.5 L606.6 704.5 L607.9 710.4 L608.2 710.9 L608.5 710.7 L609.2 711.3 L609.5 711.5 L609.8 711.1 L610.1 710.5 L610.4 710.5 L611.4 710.2 L612.3 714.9 L613.6 724.8 L614.2 728.3 L614.8 732.0 L616.4 735.9 L616.7 736.2 L617.4 739.1 L617.7 739.6 L618.0 739.7 L618.3 740.3 L618.9 743.0 L619.6 743.9 L619.9 745.0 L620.2 745.1 L620.5 745.6 L621.5 748.3 L621.8 749.6 L622.4 751.0 L623.0 751.8 L624.3 755.7 L624.6 756.1 L625.2 758.2 L625.6 758.1 L626.2 760.3 L627.1 761.8 L627.5 762.2 L628.4 764.6 L629.0 764.9 L629.3 765.7 L629.7 766.0 L630.0 765.6 L630.9 767.0 L631.2 767.9 L631.6 767.4 L631.9 767.7 L632.2 768.4 L632.5 767.9 L633.1 769.5 L633.4 769.1 L633.8 769.5 L634.4 769.5 L634.7 770.0 L635.3 770.4 L635.7 771.3 L636.0 771.3 L636.3 770.4 L636.6 770.4 L637.2 771.9 L637.5 772.4 L637.9 771.9 L638.5 771.8 L638.8 772.1 L639.1 773.1 L639.4 773.6 L640.1 772.6 L640.7 773.1 L641.3 773.1 L642.0 774.2 L642.3 774.3 L642.9 773.9 L643.2 774.5 L643.5 774.6 L643.8 774.1 L644.5 774.6 L646.1 775.3 L646.4 776.0 L647.0 774.9 L647.3 775.5 L647.6 775.2 L647.9 775.7 L648.3 775.9 L648.6 775.2 L648.9 775.6 L649.2 775.8 L649.5 775.4 L649.8 775.3 L650.2 775.7 L650.5 775.8 L650.8 775.6 L651.4 776.2 L651.7 776.5 L652.0 776.3 L652.4 775.8 L652.7 776.5 L653.6 776.8 L653.9 777.1 L654.3 777.0 L654.6 776.7 L654.9 776.9 L655.2 777.0 L655.8 777.4 L656.1 777.2 L656.8 778.1 L657.1 777.4 L657.4 777.5 L657.7 778.1 L658.0 778.4 L658.4 778.9 L659.0 777.8 L659.6 779.7 L659.9 779.8 L660.2 778.5 L660.6 778.2 L660.9 779.0 L661.2 779.4 L661.8 779.6 L662.1 779.4 L662.8 779.5 L663.1 779.8 L663.7 779.7 L664.3 781.0 L664.7 781.2 L665.3 780.5 L665.9 781.5 L666.2 780.8 L666.6 780.7 L666.9 781.1 L667.2 781.3 L667.5 781.9 L668.4 782.5 L668.8 782.4 L669.4 782.6 L669.7 782.9 L670.0 782.7 L670.3 782.2 L670.6 782.2 L671.3 781.7 L671.9 782.4 L672.5 782.1 L672.9 782.4 L673.5 782.0 L674.1 782.4 L674.4 782.9 L674.7 782.9 L675.4 782.5 L675.7 782.7 L676.0 782.2 L676.3 782.1 L677.0 782.3 L677.3 782.7 L677.9 780.9 L678.5 781.7 L678.8 781.6 L679.2 781.2 L679.5 781.2 L680.1 780.2 L680.4 780.2 L681.1 781.2 L681.4 780.7 L682.0 780.9 L682.3 780.7 L682.9 779.6 L683.9 779.6 L684.2 779.7 L684.5 779.4 L684.8 779.5 L685.5 779.2 L685.8 779.6 L686.7 778.0 L687.0 778.6 L687.4 778.8 L687.7 777.7 L688.0 777.5 L688.6 778.6 L688.9 778.2 L689.9 777.5 L690.2 777.8 L690.5 777.8 L690.8 777.6 L691.1 776.6 L691.5 776.4 L691.8 776.8 L692.4 777.0 L692.7 776.6 L693.0 776.8 L693.4 777.3 L693.7 776.8 L694.0 776.9 L694.3 777.4 L694.6 777.0 L694.9 777.0 L695.6 775.6 L695.9 775.7 L696.2 775.5 L696.5 775.7 L696.8 776.5 L697.1 776.6 L697.4 776.2 L697.8 776.5 L698.1 776.9 L698.4 777.9 L698.7 777.6 L699.0 777.0 L699.3 777.1 L700.0 778.3 L700.3 778.4 L700.6 778.3 L700.9 777.8 L701.2 778.0 L701.9 777.6 L702.2 778.0 L702.5 778.2 L703.1 779.2 L703.4 778.7 L704.1 779.5 L704.4 778.9 L704.7 779.1 L705.0 779.1 L705.6 780.6 L706.0 780.9 L706.6 780.5 L706.9 781.0 L707.2 780.8 L707.9 781.7 L708.2 781.3 L708.5 782.1 L708.8 782.4 L709.1 781.7 L709.4 782.5 L709.7 782.4 L710.1 781.9 L710.4 782.6 L711.0 782.9 L711.3 782.8 L711.6 782.3 L712.0 782.6 L712.3 783.2 L712.6 783.5 L713.2 783.2 L713.5 783.4 L713.8 782.9 L714.5 783.6 L714.8 782.4 L715.1 782.7 L715.7 782.3 L716.1 782.5 L716.4 782.1 L716.7 782.5 L717.0 782.3 L717.9 781.0 L718.3 781.2 L718.6 780.9 L718.9 779.9 L719.2 779.7 L719.5 780.2 L719.8 780.1 L720.2 779.8 L720.5 779.8 L720.8 780.1 L721.1 779.9 L721.7 777.9 L722.4 778.0 L723.0 777.0 L723.6 777.6 L723.9 777.2 L724.6 777.3 L724.9 776.9 L726.1 776.8 L727.1 777.0 L727.7 777.0 L728.0 777.1 L729.0 776.9 L729.3 777.2 L729.6 776.9 L729.9 777.0 L730.2 777.5 L730.6 777.0 L731.2 776.8 L731.8 776.4 L732.1 777.1 L732.4 777.4 L732.8 776.7 L733.1 776.7 L733.4 777.5 L733.7 777.3 L734.0 776.5 L734.3 777.2 L735.3 777.4 L735.6 776.8 L735.9 777.0 L736.5 777.2 L736.9 777.4 L737.2 777.0 L737.5 777.4 L737.8 777.4 L738.1 776.8 L739.1 776.2 L739.4 775.8 L739.7 776.6 L740.3 777.1 L740.6 777.2 L741.0 776.9 L741.3 777.2 L741.6 777.0 L742.2 777.4 L742.5 777.0 L742.9 777.2 L743.2 777.8 L743.8 777.8 L744.4 777.0 L745.1 777.5 L745.4 778.1 L746.0 777.8 L746.6 777.9 L747.0 778.3 L747.6 777.4 L747.9 777.8 L748.2 777.5 L748.5 778.1 L748.8 778.0 L749.2 777.5 L749.8 779.3 L750.1 779.6 L750.4 778.9 L750.7 779.8 L751.1 779.9 L751.4 779.7 L751.7 779.7 L752.0 779.3 L752.3 779.4 L752.6 778.7 L752.9 778.7 L753.3 779.2 L753.6 779.4 L754.2 777.8 L754.5 777.4 L754.8 777.5 L755.1 777.4 L755.8 776.0 L756.1 776.4 L756.4 776.3 L756.7 775.6 L757.0 775.4 L757.4 774.2 L757.7 773.7 L758.3 773.6 L759.2 772.7 L759.6 773.5 L759.9 773.9 L760.5 775.9" fill="none" stroke="#0000ff" stroke-width="6.0" stroke-linejoin="round" stroke-linecap="round" clip-path="url(#cI2)"/>
<g font-size="19.3" fill="#262626" stroke="#262626" stroke-width="0.35"><text x="529.50" y="815.60">6</text><path transform="translate(518.77 815.60) scale(19.3)" stroke-width="0.0181" d="M0.27 0L0.414 0L0.414 -0.69L0.30 -0.69Q0.24 -0.58 0.095 -0.565L0.095 -0.475Q0.18 -0.478 0.27 -0.50Z"/>
<text x="634.60" y="815.60">7</text><path transform="translate(623.87 815.60) scale(19.3)" stroke-width="0.0181" d="M0.27 0L0.414 0L0.414 -0.69L0.30 -0.69Q0.24 -0.58 0.095 -0.565L0.095 -0.475Q0.18 -0.478 0.27 -0.50Z"/>
<text x="739.70" y="815.60">8</text><path transform="translate(728.97 815.60) scale(19.3)" stroke-width="0.0181" d="M0.27 0L0.414 0L0.414 -0.69L0.30 -0.69Q0.24 -0.58 0.095 -0.565L0.095 -0.475Q0.18 -0.478 0.27 -0.50Z"/>
<text x="449.57" y="787.70">8</text>
<text x="449.57" y="753.30">9</text>
<text x="449.57" y="718.90">0</text><path transform="translate(438.83 718.90) scale(19.3)" stroke-width="0.0181" d="M0.27 0L0.414 0L0.414 -0.69L0.30 -0.69Q0.24 -0.58 0.095 -0.565L0.095 -0.475Q0.18 -0.478 0.27 -0.50Z"/>
<path transform="translate(438.83 684.50) scale(19.3)" stroke-width="0.0181" d="M0.27 0L0.414 0L0.414 -0.69L0.30 -0.69Q0.24 -0.58 0.095 -0.565L0.095 -0.475Q0.18 -0.478 0.27 -0.50Z"/><path transform="translate(449.57 684.50) scale(19.3)" stroke-width="0.0181" d="M0.27 0L0.414 0L0.414 -0.69L0.30 -0.69Q0.24 -0.58 0.095 -0.565L0.095 -0.475Q0.18 -0.478 0.27 -0.50Z"/></g>
<rect x="824.3" y="656.6" width="178.5" height="68" fill="#fff" stroke="#262626" stroke-width="2.4"/>
<line x1="831.4" y1="675.3" x2="903.3" y2="675.3" stroke="#ff0000" stroke-width="4"/>
<line x1="831.4" y1="706.4" x2="903.3" y2="706.4" stroke="#0000ff" stroke-width="4"/>
<g font-size="24" fill="#000" stroke="#000" stroke-width="0.35"><text x="908.2" y="684.6">Desired</text><text x="908.2" y="715.3">Fuzzy</text></g>
<line x1="563.6" y1="871.9" x2="587.8" y2="830.5" stroke="#000" stroke-width="2.4"/><path d="M597.1 814.3 L576.5 830.5 L587.8 830.5 L592.8 840.1 Z" fill="#000" stroke="#000" stroke-width="1" stroke-linejoin="round"/>
<text x="503.8" y="1132" font-size="29.3" fill="#262626" stroke="#262626" stroke-width="0.35">Time (s)</text>
<text transform="translate(25.1 905.5) rotate(-90)" font-size="29" fill="#262626" stroke="#262626" stroke-width="0.35">X<tspan font-size="23.5" dx="-0.6" dy="14.3">b</tspan><tspan dx="-0.7" dy="-14.3"> (mm)</tspan></text>
<text x="514.5" y="1199.5" font-size="33.6" fill="#000" stroke="#000" stroke-width="0.35">(b)</text>
</svg>
</body></html>
